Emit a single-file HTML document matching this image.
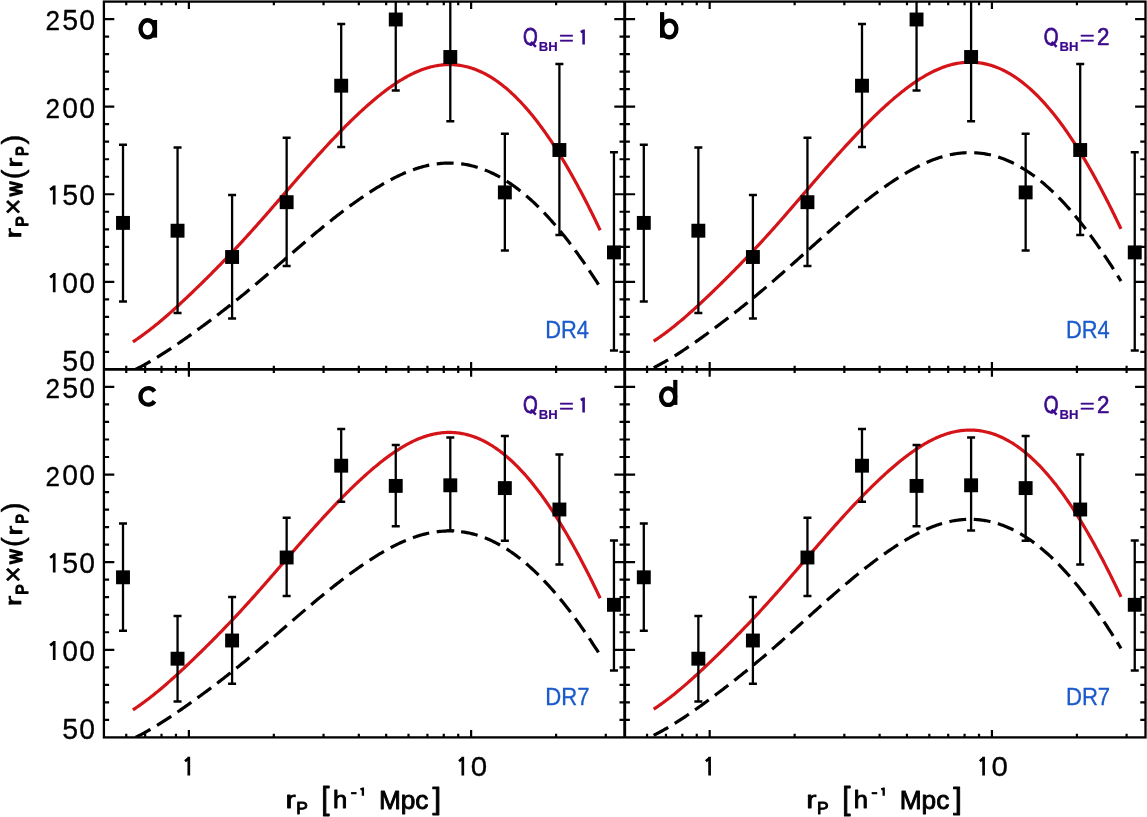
<!DOCTYPE html>
<html><head><meta charset="utf-8"><title>r_P x w(r_P) clustering panels</title>
<style>
html,body{margin:0;padding:0;background:#fff;}
body{width:1147px;height:817px;overflow:hidden;}
svg{display:block;will-change:transform;}
text{font-family:"Liberation Sans",sans-serif;font-kerning:none;}
</style></head>
<body>
<svg width="1147" height="817" viewBox="0 0 1147 817">
<rect width="1147" height="817" fill="#fff"/>
<rect x="103.9" y="1.6" width="1041.60" height="735.80" fill="none" stroke="#000" stroke-width="2.3"/>
<line x1="624.7" y1="1.6" x2="624.7" y2="737.4" stroke="#000" stroke-width="2.9"/>
<line x1="103.9" y1="369.4" x2="1145.5" y2="369.4" stroke="#000" stroke-width="2.9"/>
<path d="M103.90,351.89L109.10,351.89 M624.70,351.89L619.50,351.89 M624.70,351.89L629.90,351.89 M1145.50,351.89L1140.30,351.89 M103.90,334.37L109.10,334.37 M624.70,334.37L619.50,334.37 M624.70,334.37L629.90,334.37 M1145.50,334.37L1140.30,334.37 M103.90,316.86L109.10,316.86 M624.70,316.86L619.50,316.86 M624.70,316.86L629.90,316.86 M1145.50,316.86L1140.30,316.86 M103.90,299.34L109.10,299.34 M624.70,299.34L619.50,299.34 M624.70,299.34L629.90,299.34 M1145.50,299.34L1140.30,299.34 M103.90,281.83L114.30,281.83 M624.70,281.83L614.30,281.83 M624.70,281.83L635.10,281.83 M1145.50,281.83L1135.10,281.83 M103.90,264.31L109.10,264.31 M624.70,264.31L619.50,264.31 M624.70,264.31L629.90,264.31 M1145.50,264.31L1140.30,264.31 M103.90,246.80L109.10,246.80 M624.70,246.80L619.50,246.80 M624.70,246.80L629.90,246.80 M1145.50,246.80L1140.30,246.80 M103.90,229.29L109.10,229.29 M624.70,229.29L619.50,229.29 M624.70,229.29L629.90,229.29 M1145.50,229.29L1140.30,229.29 M103.90,211.77L109.10,211.77 M624.70,211.77L619.50,211.77 M624.70,211.77L629.90,211.77 M1145.50,211.77L1140.30,211.77 M103.90,194.26L114.30,194.26 M624.70,194.26L614.30,194.26 M624.70,194.26L635.10,194.26 M1145.50,194.26L1135.10,194.26 M103.90,176.74L109.10,176.74 M624.70,176.74L619.50,176.74 M624.70,176.74L629.90,176.74 M1145.50,176.74L1140.30,176.74 M103.90,159.23L109.10,159.23 M624.70,159.23L619.50,159.23 M624.70,159.23L629.90,159.23 M1145.50,159.23L1140.30,159.23 M103.90,141.71L109.10,141.71 M624.70,141.71L619.50,141.71 M624.70,141.71L629.90,141.71 M1145.50,141.71L1140.30,141.71 M103.90,124.20L109.10,124.20 M624.70,124.20L619.50,124.20 M624.70,124.20L629.90,124.20 M1145.50,124.20L1140.30,124.20 M103.90,106.69L114.30,106.69 M624.70,106.69L614.30,106.69 M624.70,106.69L635.10,106.69 M1145.50,106.69L1135.10,106.69 M103.90,89.17L109.10,89.17 M624.70,89.17L619.50,89.17 M624.70,89.17L629.90,89.17 M1145.50,89.17L1140.30,89.17 M103.90,71.66L109.10,71.66 M624.70,71.66L619.50,71.66 M624.70,71.66L629.90,71.66 M1145.50,71.66L1140.30,71.66 M103.90,54.14L109.10,54.14 M624.70,54.14L619.50,54.14 M624.70,54.14L629.90,54.14 M1145.50,54.14L1140.30,54.14 M103.90,36.63L109.10,36.63 M624.70,36.63L619.50,36.63 M624.70,36.63L629.90,36.63 M1145.50,36.63L1140.30,36.63 M103.90,19.11L114.30,19.11 M624.70,19.11L614.30,19.11 M624.70,19.11L635.10,19.11 M1145.50,19.11L1135.10,19.11 M103.90,719.88L109.10,719.88 M624.70,719.88L619.50,719.88 M624.70,719.88L629.90,719.88 M1145.50,719.88L1140.30,719.88 M103.90,702.35L109.10,702.35 M624.70,702.35L619.50,702.35 M624.70,702.35L629.90,702.35 M1145.50,702.35L1140.30,702.35 M103.90,684.83L109.10,684.83 M624.70,684.83L619.50,684.83 M624.70,684.83L629.90,684.83 M1145.50,684.83L1140.30,684.83 M103.90,667.30L109.10,667.30 M624.70,667.30L619.50,667.30 M624.70,667.30L629.90,667.30 M1145.50,667.30L1140.30,667.30 M103.90,649.78L114.30,649.78 M624.70,649.78L614.30,649.78 M624.70,649.78L635.10,649.78 M1145.50,649.78L1135.10,649.78 M103.90,632.26L109.10,632.26 M624.70,632.26L619.50,632.26 M624.70,632.26L629.90,632.26 M1145.50,632.26L1140.30,632.26 M103.90,614.73L109.10,614.73 M624.70,614.73L619.50,614.73 M624.70,614.73L629.90,614.73 M1145.50,614.73L1140.30,614.73 M103.90,597.21L109.10,597.21 M624.70,597.21L619.50,597.21 M624.70,597.21L629.90,597.21 M1145.50,597.21L1140.30,597.21 M103.90,579.69L109.10,579.69 M624.70,579.69L619.50,579.69 M624.70,579.69L629.90,579.69 M1145.50,579.69L1140.30,579.69 M103.90,562.16L114.30,562.16 M624.70,562.16L614.30,562.16 M624.70,562.16L635.10,562.16 M1145.50,562.16L1135.10,562.16 M103.90,544.64L109.10,544.64 M624.70,544.64L619.50,544.64 M624.70,544.64L629.90,544.64 M1145.50,544.64L1140.30,544.64 M103.90,527.11L109.10,527.11 M624.70,527.11L619.50,527.11 M624.70,527.11L629.90,527.11 M1145.50,527.11L1140.30,527.11 M103.90,509.59L109.10,509.59 M624.70,509.59L619.50,509.59 M624.70,509.59L629.90,509.59 M1145.50,509.59L1140.30,509.59 M103.90,492.07L109.10,492.07 M624.70,492.07L619.50,492.07 M624.70,492.07L629.90,492.07 M1145.50,492.07L1140.30,492.07 M103.90,474.54L114.30,474.54 M624.70,474.54L614.30,474.54 M624.70,474.54L635.10,474.54 M1145.50,474.54L1135.10,474.54 M103.90,457.02L109.10,457.02 M624.70,457.02L619.50,457.02 M624.70,457.02L629.90,457.02 M1145.50,457.02L1140.30,457.02 M103.90,439.50L109.10,439.50 M624.70,439.50L619.50,439.50 M624.70,439.50L629.90,439.50 M1145.50,439.50L1140.30,439.50 M103.90,421.97L109.10,421.97 M624.70,421.97L619.50,421.97 M624.70,421.97L629.90,421.97 M1145.50,421.97L1140.30,421.97 M103.90,404.45L109.10,404.45 M624.70,404.45L619.50,404.45 M624.70,404.45L629.90,404.45 M1145.50,404.45L1140.30,404.45 M103.90,386.92L114.30,386.92 M624.70,386.92L614.30,386.92 M624.70,386.92L635.10,386.92 M1145.50,386.92L1135.10,386.92 M126.25,1.60L126.25,5.30 M126.25,369.40L126.25,365.70 M126.25,369.40L126.25,373.10 M126.25,737.40L126.25,733.70 M145.15,1.60L145.15,5.30 M145.15,369.40L145.15,365.70 M145.15,369.40L145.15,373.10 M145.15,737.40L145.15,733.70 M161.52,1.60L161.52,5.30 M161.52,369.40L161.52,365.70 M161.52,369.40L161.52,373.10 M161.52,737.40L161.52,733.70 M175.95,1.60L175.95,5.30 M175.95,369.40L175.95,365.70 M175.95,369.40L175.95,373.10 M175.95,737.40L175.95,733.70 M188.87,1.60L188.87,8.95 M188.87,369.40L188.87,362.05 M188.87,369.40L188.87,376.75 M188.87,737.40L188.87,730.05 M273.84,1.60L273.84,5.30 M273.84,369.40L273.84,365.70 M273.84,369.40L273.84,373.10 M273.84,737.40L273.84,733.70 M323.54,1.60L323.54,5.30 M323.54,369.40L323.54,365.70 M323.54,369.40L323.54,373.10 M323.54,737.40L323.54,733.70 M358.81,1.60L358.81,5.30 M358.81,369.40L358.81,365.70 M358.81,369.40L358.81,373.10 M358.81,737.40L358.81,733.70 M386.16,1.60L386.16,5.30 M386.16,369.40L386.16,365.70 M386.16,369.40L386.16,373.10 M386.16,737.40L386.16,733.70 M408.51,1.60L408.51,5.30 M408.51,369.40L408.51,365.70 M408.51,369.40L408.51,373.10 M408.51,737.40L408.51,733.70 M427.41,1.60L427.41,5.30 M427.41,369.40L427.41,365.70 M427.41,369.40L427.41,373.10 M427.41,737.40L427.41,733.70 M443.78,1.60L443.78,5.30 M443.78,369.40L443.78,365.70 M443.78,369.40L443.78,373.10 M443.78,737.40L443.78,733.70 M458.22,1.60L458.22,5.30 M458.22,369.40L458.22,365.70 M458.22,369.40L458.22,373.10 M458.22,737.40L458.22,733.70 M471.13,1.60L471.13,8.95 M471.13,369.40L471.13,362.05 M471.13,369.40L471.13,376.75 M471.13,737.40L471.13,730.05 M556.10,1.60L556.10,5.30 M556.10,369.40L556.10,365.70 M556.10,369.40L556.10,373.10 M556.10,737.40L556.10,733.70 M605.80,1.60L605.80,5.30 M605.80,369.40L605.80,365.70 M605.80,369.40L605.80,373.10 M605.80,737.40L605.80,733.70 M647.05,1.60L647.05,5.30 M647.05,369.40L647.05,365.70 M647.05,369.40L647.05,373.10 M647.05,737.40L647.05,733.70 M665.95,1.60L665.95,5.30 M665.95,369.40L665.95,365.70 M665.95,369.40L665.95,373.10 M665.95,737.40L665.95,733.70 M682.32,1.60L682.32,5.30 M682.32,369.40L682.32,365.70 M682.32,369.40L682.32,373.10 M682.32,737.40L682.32,733.70 M696.75,1.60L696.75,5.30 M696.75,369.40L696.75,365.70 M696.75,369.40L696.75,373.10 M696.75,737.40L696.75,733.70 M709.67,1.60L709.67,8.95 M709.67,369.40L709.67,362.05 M709.67,369.40L709.67,376.75 M709.67,737.40L709.67,730.05 M794.64,1.60L794.64,5.30 M794.64,369.40L794.64,365.70 M794.64,369.40L794.64,373.10 M794.64,737.40L794.64,733.70 M844.34,1.60L844.34,5.30 M844.34,369.40L844.34,365.70 M844.34,369.40L844.34,373.10 M844.34,737.40L844.34,733.70 M879.61,1.60L879.61,5.30 M879.61,369.40L879.61,365.70 M879.61,369.40L879.61,373.10 M879.61,737.40L879.61,733.70 M906.96,1.60L906.96,5.30 M906.96,369.40L906.96,365.70 M906.96,369.40L906.96,373.10 M906.96,737.40L906.96,733.70 M929.31,1.60L929.31,5.30 M929.31,369.40L929.31,365.70 M929.31,369.40L929.31,373.10 M929.31,737.40L929.31,733.70 M948.21,1.60L948.21,5.30 M948.21,369.40L948.21,365.70 M948.21,369.40L948.21,373.10 M948.21,737.40L948.21,733.70 M964.58,1.60L964.58,5.30 M964.58,369.40L964.58,365.70 M964.58,369.40L964.58,373.10 M964.58,737.40L964.58,733.70 M979.02,1.60L979.02,5.30 M979.02,369.40L979.02,365.70 M979.02,369.40L979.02,373.10 M979.02,737.40L979.02,733.70 M991.93,1.60L991.93,8.95 M991.93,369.40L991.93,362.05 M991.93,369.40L991.93,376.75 M991.93,737.40L991.93,730.05 M1076.90,1.60L1076.90,5.30 M1076.90,369.40L1076.90,365.70 M1076.90,369.40L1076.90,373.10 M1076.90,737.40L1076.90,733.70 M1126.60,1.60L1126.60,5.30 M1126.60,369.40L1126.60,365.70 M1126.60,369.40L1126.60,373.10 M1126.60,737.40L1126.60,733.70" stroke="#000" stroke-width="2.2" fill="none"/>
<clipPath id="clipa"><rect x="103.90" y="1.60" width="520.80" height="367.80"/></clipPath>
<g clip-path="url(#clipa)">
<path d="M132.90,370.74 L134.07,370.17 L135.24,369.59 L136.41,369.00 L137.58,368.40 L138.76,367.80 L139.93,367.18 L141.10,366.56 L142.27,365.93 L143.44,365.30 L144.61,364.65 L145.78,364.00 L146.95,363.34 L148.13,362.68 L149.30,362.00 L150.47,361.32 L151.64,360.64 L152.81,359.95 L153.98,359.25 L155.15,358.54 L156.32,357.83 L157.49,357.11 L158.67,356.39 L159.84,355.66 L161.01,354.92 L162.18,354.18 L163.35,353.44 L164.52,352.68 L165.69,351.93 L166.86,351.17 L168.04,350.40 L169.21,349.63 L170.38,348.85 L171.55,348.07 L172.72,347.29 L173.89,346.50 L175.06,345.70 L176.23,344.91 L177.40,344.10 L178.58,343.30 L179.75,342.49 L180.92,341.68 L182.09,340.86 L183.26,340.04 L184.43,339.22 L185.60,338.40 L186.77,337.57 L187.95,336.74 L189.12,335.90 L190.29,335.07 L191.46,334.23 L192.63,333.39 L193.80,332.55 L194.97,331.70 L196.14,330.85 L197.31,330.00 L198.49,329.15 L199.66,328.30 L200.83,327.44 L202.00,326.58 L203.17,325.72 L204.34,324.86 L205.51,323.99 L206.68,323.12 L207.86,322.25 L209.03,321.38 L210.20,320.50 L211.37,319.62 L212.54,318.74 L213.71,317.85 L214.88,316.97 L216.05,316.08 L217.22,315.19 L218.40,314.29 L219.57,313.40 L220.74,312.50 L221.91,311.59 L223.08,310.69 L224.25,309.78 L225.42,308.87 L226.59,307.96 L227.77,307.04 L228.94,306.12 L230.11,305.20 L231.28,304.28 L232.45,303.35 L233.62,302.42 L234.79,301.49 L235.96,300.56 L237.13,299.62 L238.31,298.68 L239.48,297.73 L240.65,296.79 L241.82,295.84 L242.99,294.88 L244.16,293.93 L245.33,292.97 L246.50,292.01 L247.68,291.05 L248.85,290.08 L250.02,289.11 L251.19,288.13 L252.36,287.16 L253.53,286.18 L254.70,285.20 L255.87,284.21 L257.04,283.23 L258.22,282.24 L259.39,281.25 L260.56,280.25 L261.73,279.26 L262.90,278.26 L264.07,277.26 L265.24,276.26 L266.41,275.26 L267.59,274.25 L268.76,273.25 L269.93,272.24 L271.10,271.23 L272.27,270.22 L273.44,269.21 L274.61,268.20 L275.78,267.19 L276.95,266.18 L278.13,265.16 L279.30,264.15 L280.47,263.13 L281.64,262.12 L282.81,261.11 L283.98,260.09 L285.15,259.08 L286.32,258.06 L287.50,257.05 L288.67,256.04 L289.84,255.02 L291.01,254.01 L292.18,253.00 L293.35,251.99 L294.52,250.98 L295.69,249.97 L296.86,248.96 L298.04,247.95 L299.21,246.95 L300.38,245.94 L301.55,244.94 L302.72,243.94 L303.89,242.94 L305.06,241.94 L306.23,240.95 L307.41,239.96 L308.58,238.96 L309.75,237.98 L310.92,236.99 L312.09,236.01 L313.26,235.02 L314.43,234.05 L315.60,233.07 L316.77,232.10 L317.95,231.13 L319.12,230.16 L320.29,229.19 L321.46,228.23 L322.63,227.27 L323.80,226.32 L324.97,225.37 L326.14,224.42 L327.32,223.47 L328.49,222.53 L329.66,221.59 L330.83,220.66 L332.00,219.73 L333.17,218.80 L334.34,217.88 L335.51,216.96 L336.68,216.04 L337.86,215.13 L339.03,214.23 L340.20,213.32 L341.37,212.43 L342.54,211.53 L343.71,210.64 L344.88,209.76 L346.05,208.88 L347.23,208.01 L348.40,207.14 L349.57,206.27 L350.74,205.41 L351.91,204.56 L353.08,203.71 L354.25,202.87 L355.42,202.03 L356.59,201.19 L357.77,200.37 L358.94,199.54 L360.11,198.73 L361.28,197.92 L362.45,197.11 L363.62,196.31 L364.79,195.52 L365.96,194.73 L367.14,193.95 L368.31,193.18 L369.48,192.41 L370.65,191.65 L371.82,190.89 L372.99,190.14 L374.16,189.40 L375.33,188.67 L376.51,187.94 L377.68,187.22 L378.85,186.51 L380.02,185.80 L381.19,185.11 L382.36,184.42 L383.53,183.74 L384.70,183.07 L385.87,182.40 L387.05,181.75 L388.22,181.10 L389.39,180.47 L390.56,179.84 L391.73,179.22 L392.90,178.61 L394.07,178.01 L395.24,177.42 L396.42,176.84 L397.59,176.27 L398.76,175.71 L399.93,175.16 L401.10,174.62 L402.27,174.09 L403.44,173.57 L404.61,173.06 L405.78,172.56 L406.96,172.08 L408.13,171.60 L409.30,171.14 L410.47,170.69 L411.64,170.25 L412.81,169.82 L413.98,169.41 L415.15,169.00 L416.33,168.61 L417.50,168.23 L418.67,167.86 L419.84,167.51 L421.01,167.17 L422.18,166.84 L423.35,166.53 L424.52,166.22 L425.69,165.94 L426.87,165.66 L428.04,165.40 L429.21,165.15 L430.38,164.92 L431.55,164.70 L432.72,164.49 L433.89,164.30 L435.06,164.12 L436.24,163.96 L437.41,163.81 L438.58,163.67 L439.75,163.55 L440.92,163.44 L442.09,163.35 L443.26,163.27 L444.43,163.20 L445.60,163.15 L446.78,163.11 L447.95,163.09 L449.12,163.08 L450.29,163.08 L451.46,163.10 L452.63,163.14 L453.80,163.19 L454.97,163.25 L456.15,163.33 L457.32,163.42 L458.49,163.53 L459.66,163.65 L460.83,163.79 L462.00,163.94 L463.17,164.11 L464.34,164.29 L465.51,164.49 L466.69,164.70 L467.86,164.93 L469.03,165.17 L470.20,165.42 L471.37,165.70 L472.54,165.98 L473.71,166.29 L474.88,166.60 L476.06,166.94 L477.23,167.28 L478.40,167.65 L479.57,168.03 L480.74,168.42 L481.91,168.83 L483.08,169.26 L484.25,169.70 L485.42,170.16 L486.60,170.63 L487.77,171.12 L488.94,171.62 L490.11,172.14 L491.28,172.68 L492.45,173.23 L493.62,173.79 L494.79,174.38 L495.97,174.97 L497.14,175.59 L498.31,176.21 L499.48,176.86 L500.65,177.52 L501.82,178.19 L502.99,178.88 L504.16,179.59 L505.33,180.31 L506.51,181.04 L507.68,181.80 L508.85,182.56 L510.02,183.35 L511.19,184.14 L512.36,184.96 L513.53,185.78 L514.70,186.63 L515.88,187.49 L517.05,188.36 L518.22,189.25 L519.39,190.15 L520.56,191.07 L521.73,192.01 L522.90,192.96 L524.07,193.92 L525.24,194.91 L526.42,195.90 L527.59,196.91 L528.76,197.94 L529.93,198.98 L531.10,200.04 L532.27,201.11 L533.44,202.19 L534.61,203.29 L535.79,204.41 L536.96,205.54 L538.13,206.69 L539.30,207.85 L540.47,209.03 L541.64,210.22 L542.81,211.43 L543.98,212.65 L545.15,213.88 L546.33,215.13 L547.50,216.40 L548.67,217.68 L549.84,218.97 L551.01,220.28 L552.18,221.61 L553.35,222.94 L554.52,224.30 L555.70,225.66 L556.87,227.04 L558.04,228.44 L559.21,229.84 L560.38,231.27 L561.55,232.70 L562.72,234.15 L563.89,235.61 L565.06,237.09 L566.24,238.58 L567.41,240.08 L568.58,241.59 L569.75,243.12 L570.92,244.66 L572.09,246.22 L573.26,247.79 L574.43,249.37 L575.61,250.96 L576.78,252.56 L577.95,254.18 L579.12,255.81 L580.29,257.45 L581.46,259.11 L582.63,260.78 L583.80,262.46 L584.97,264.15 L586.15,265.85 L587.32,267.57 L588.49,269.29 L589.66,271.03 L590.83,272.78 L592.00,274.54 L593.17,276.32 L594.34,278.10 L595.52,279.90 L596.69,281.70 L597.86,283.52 L599.03,285.35 L600.20,287.19" fill="none" stroke="#000" stroke-width="3.2" stroke-dasharray="16.9 7.6" stroke-dashoffset="21.48"/>
<path d="M132.90,341.84 L134.07,341.08 L135.24,340.30 L136.41,339.52 L137.58,338.72 L138.76,337.91 L139.93,337.09 L141.10,336.26 L142.27,335.42 L143.44,334.57 L144.61,333.71 L145.78,332.84 L146.95,331.96 L148.13,331.08 L149.30,330.18 L150.47,329.27 L151.64,328.35 L152.81,327.43 L153.98,326.50 L155.15,325.55 L156.32,324.60 L157.49,323.65 L158.67,322.68 L159.84,321.71 L161.01,320.72 L162.18,319.74 L163.35,318.74 L164.52,317.74 L165.69,316.73 L166.86,315.71 L168.04,314.69 L169.21,313.66 L170.38,312.62 L171.55,311.58 L172.72,310.53 L173.89,309.48 L175.06,308.42 L176.23,307.35 L177.40,306.28 L178.58,305.21 L179.75,304.13 L180.92,303.04 L182.09,301.95 L183.26,300.86 L184.43,299.76 L185.60,298.66 L186.77,297.56 L187.95,296.45 L189.12,295.33 L190.29,294.22 L191.46,293.10 L192.63,291.98 L193.80,290.85 L194.97,289.72 L196.14,288.59 L197.31,287.46 L198.49,286.32 L199.66,285.18 L200.83,284.03 L202.00,282.89 L203.17,281.74 L204.34,280.58 L205.51,279.43 L206.68,278.27 L207.86,277.10 L209.03,275.94 L210.20,274.77 L211.37,273.59 L212.54,272.41 L213.71,271.23 L214.88,270.05 L216.05,268.86 L217.22,267.67 L218.40,266.48 L219.57,265.28 L220.74,264.08 L221.91,262.88 L223.08,261.67 L224.25,260.46 L225.42,259.24 L226.59,258.02 L227.77,256.80 L228.94,255.57 L230.11,254.34 L231.28,253.11 L232.45,251.87 L233.62,250.63 L234.79,249.39 L235.96,248.14 L237.13,246.89 L238.31,245.63 L239.48,244.37 L240.65,243.11 L241.82,241.84 L242.99,240.57 L244.16,239.29 L245.33,238.01 L246.50,236.73 L247.68,235.44 L248.85,234.15 L250.02,232.85 L251.19,231.55 L252.36,230.25 L253.53,228.94 L254.70,227.63 L255.87,226.32 L257.04,225.00 L258.22,223.68 L259.39,222.36 L260.56,221.03 L261.73,219.70 L262.90,218.37 L264.07,217.04 L265.24,215.70 L266.41,214.36 L267.59,213.02 L268.76,211.68 L269.93,210.33 L271.10,208.99 L272.27,207.64 L273.44,206.29 L274.61,204.94 L275.78,203.59 L276.95,202.24 L278.13,200.88 L279.30,199.53 L280.47,198.18 L281.64,196.82 L282.81,195.47 L283.98,194.11 L285.15,192.76 L286.32,191.41 L287.50,190.05 L288.67,188.70 L289.84,187.35 L291.01,185.99 L292.18,184.64 L293.35,183.29 L294.52,181.95 L295.69,180.60 L296.86,179.25 L298.04,177.91 L299.21,176.57 L300.38,175.23 L301.55,173.89 L302.72,172.55 L303.89,171.22 L305.06,169.89 L306.23,168.56 L307.41,167.23 L308.58,165.91 L309.75,164.59 L310.92,163.27 L312.09,161.96 L313.26,160.65 L314.43,159.34 L315.60,158.04 L316.77,156.74 L317.95,155.44 L319.12,154.15 L320.29,152.86 L321.46,151.58 L322.63,150.30 L323.80,149.02 L324.97,147.75 L326.14,146.48 L327.32,145.22 L328.49,143.96 L329.66,142.71 L330.83,141.46 L332.00,140.22 L333.17,138.99 L334.34,137.75 L335.51,136.53 L336.68,135.30 L337.86,134.09 L339.03,132.88 L340.20,131.67 L341.37,130.48 L342.54,129.28 L343.71,128.10 L344.88,126.92 L346.05,125.74 L347.23,124.58 L348.40,123.41 L349.57,122.26 L350.74,121.11 L351.91,119.97 L353.08,118.84 L354.25,117.71 L355.42,116.59 L356.59,115.48 L357.77,114.37 L358.94,113.28 L360.11,112.19 L361.28,111.10 L362.45,110.03 L363.62,108.96 L364.79,107.90 L365.96,106.85 L367.14,105.81 L368.31,104.77 L369.48,103.75 L370.65,102.73 L371.82,101.72 L372.99,100.72 L374.16,99.73 L375.33,98.75 L376.51,97.78 L377.68,96.82 L378.85,95.87 L380.02,94.93 L381.19,94.00 L382.36,93.08 L383.53,92.18 L384.70,91.28 L385.87,90.39 L387.05,89.52 L388.22,88.66 L389.39,87.81 L390.56,86.97 L391.73,86.14 L392.90,85.33 L394.07,84.53 L395.24,83.74 L396.42,82.96 L397.59,82.20 L398.76,81.45 L399.93,80.72 L401.10,80.00 L402.27,79.29 L403.44,78.60 L404.61,77.92 L405.78,77.26 L406.96,76.61 L408.13,75.97 L409.30,75.36 L410.47,74.75 L411.64,74.16 L412.81,73.59 L413.98,73.04 L415.15,72.50 L416.33,71.98 L417.50,71.47 L418.67,70.98 L419.84,70.51 L421.01,70.05 L422.18,69.61 L423.35,69.19 L424.52,68.79 L425.69,68.41 L426.87,68.04 L428.04,67.69 L429.21,67.36 L430.38,67.05 L431.55,66.76 L432.72,66.48 L433.89,66.22 L435.06,65.99 L436.24,65.77 L437.41,65.57 L438.58,65.38 L439.75,65.22 L440.92,65.08 L442.09,64.95 L443.26,64.84 L444.43,64.75 L445.60,64.69 L446.78,64.64 L447.95,64.60 L449.12,64.59 L450.29,64.60 L451.46,64.63 L452.63,64.67 L453.80,64.74 L454.97,64.82 L456.15,64.93 L457.32,65.05 L458.49,65.19 L459.66,65.36 L460.83,65.54 L462.00,65.74 L463.17,65.97 L464.34,66.21 L465.51,66.47 L466.69,66.75 L467.86,67.06 L469.03,67.38 L470.20,67.72 L471.37,68.09 L472.54,68.47 L473.71,68.87 L474.88,69.30 L476.06,69.74 L477.23,70.21 L478.40,70.69 L479.57,71.20 L480.74,71.73 L481.91,72.27 L483.08,72.84 L484.25,73.43 L485.42,74.04 L486.60,74.67 L487.77,75.33 L488.94,76.00 L490.11,76.69 L491.28,77.41 L492.45,78.14 L493.62,78.90 L494.79,79.67 L495.97,80.47 L497.14,81.29 L498.31,82.13 L499.48,82.99 L500.65,83.87 L501.82,84.77 L502.99,85.69 L504.16,86.63 L505.33,87.59 L506.51,88.58 L507.68,89.58 L508.85,90.60 L510.02,91.65 L511.19,92.71 L512.36,93.80 L513.53,94.91 L514.70,96.03 L515.88,97.18 L517.05,98.35 L518.22,99.53 L519.39,100.74 L520.56,101.97 L521.73,103.22 L522.90,104.49 L524.07,105.77 L525.24,107.08 L526.42,108.41 L527.59,109.76 L528.76,111.13 L529.93,112.52 L531.10,113.93 L532.27,115.36 L533.44,116.81 L534.61,118.28 L535.79,119.77 L536.96,121.29 L538.13,122.82 L539.30,124.37 L540.47,125.94 L541.64,127.53 L542.81,129.14 L543.98,130.77 L545.15,132.42 L546.33,134.09 L547.50,135.78 L548.67,137.49 L549.84,139.22 L551.01,140.97 L552.18,142.73 L553.35,144.52 L554.52,146.32 L555.70,148.15 L556.87,149.99 L558.04,151.85 L559.21,153.73 L560.38,155.63 L561.55,157.54 L562.72,159.48 L563.89,161.43 L565.06,163.40 L566.24,165.39 L567.41,167.39 L568.58,169.42 L569.75,171.46 L570.92,173.52 L572.09,175.59 L573.26,177.68 L574.43,179.79 L575.61,181.92 L576.78,184.06 L577.95,186.22 L579.12,188.40 L580.29,190.59 L581.46,192.80 L582.63,195.03 L583.80,197.27 L584.97,199.53 L586.15,201.80 L587.32,204.09 L588.49,206.40 L589.66,208.72 L590.83,211.06 L592.00,213.41 L593.17,215.78 L594.34,218.16 L595.52,220.56 L596.69,222.97 L597.86,225.40 L599.03,227.84 L600.20,230.30" fill="none" stroke="#d41418" stroke-width="3.2"/>
<line x1="123.00" y1="144.70" x2="123.00" y2="301.40" stroke="#000" stroke-width="2.3"/>
<line x1="119.00" y1="144.70" x2="127.00" y2="144.70" stroke="#000" stroke-width="2.5"/>
<line x1="119.00" y1="301.40" x2="127.00" y2="301.40" stroke="#000" stroke-width="2.5"/>
<rect x="116.05" y="215.95" width="13.9" height="13.9" fill="#000"/>
<line x1="177.55" y1="147.60" x2="177.55" y2="313.10" stroke="#000" stroke-width="2.3"/>
<line x1="173.55" y1="147.60" x2="181.55" y2="147.60" stroke="#000" stroke-width="2.5"/>
<line x1="173.55" y1="313.10" x2="181.55" y2="313.10" stroke="#000" stroke-width="2.5"/>
<rect x="170.60" y="223.75" width="13.9" height="13.9" fill="#000"/>
<line x1="232.10" y1="194.90" x2="232.10" y2="318.50" stroke="#000" stroke-width="2.3"/>
<line x1="228.10" y1="194.90" x2="236.10" y2="194.90" stroke="#000" stroke-width="2.5"/>
<line x1="228.10" y1="318.50" x2="236.10" y2="318.50" stroke="#000" stroke-width="2.5"/>
<rect x="225.15" y="250.05" width="13.9" height="13.9" fill="#000"/>
<line x1="286.65" y1="137.80" x2="286.65" y2="266.10" stroke="#000" stroke-width="2.3"/>
<line x1="282.65" y1="137.80" x2="290.65" y2="137.80" stroke="#000" stroke-width="2.5"/>
<line x1="282.65" y1="266.10" x2="290.65" y2="266.10" stroke="#000" stroke-width="2.5"/>
<rect x="279.70" y="195.25" width="13.9" height="13.9" fill="#000"/>
<line x1="341.20" y1="24.00" x2="341.20" y2="146.90" stroke="#000" stroke-width="2.3"/>
<line x1="337.20" y1="24.00" x2="345.20" y2="24.00" stroke="#000" stroke-width="2.5"/>
<line x1="337.20" y1="146.90" x2="345.20" y2="146.90" stroke="#000" stroke-width="2.5"/>
<rect x="334.25" y="78.75" width="13.9" height="13.9" fill="#000"/>
<line x1="395.75" y1="-20.00" x2="395.75" y2="90.60" stroke="#000" stroke-width="2.3"/>
<line x1="391.75" y1="-20.00" x2="399.75" y2="-20.00" stroke="#000" stroke-width="2.5"/>
<line x1="391.75" y1="90.60" x2="399.75" y2="90.60" stroke="#000" stroke-width="2.5"/>
<rect x="388.80" y="12.55" width="13.9" height="13.9" fill="#000"/>
<line x1="450.30" y1="-20.00" x2="450.30" y2="121.20" stroke="#000" stroke-width="2.3"/>
<line x1="446.30" y1="-20.00" x2="454.30" y2="-20.00" stroke="#000" stroke-width="2.5"/>
<line x1="446.30" y1="121.20" x2="454.30" y2="121.20" stroke="#000" stroke-width="2.5"/>
<rect x="443.35" y="50.05" width="13.9" height="13.9" fill="#000"/>
<line x1="504.85" y1="133.70" x2="504.85" y2="250.40" stroke="#000" stroke-width="2.3"/>
<line x1="500.85" y1="133.70" x2="508.85" y2="133.70" stroke="#000" stroke-width="2.5"/>
<line x1="500.85" y1="250.40" x2="508.85" y2="250.40" stroke="#000" stroke-width="2.5"/>
<rect x="497.90" y="185.45" width="13.9" height="13.9" fill="#000"/>
<line x1="559.40" y1="64.10" x2="559.40" y2="234.90" stroke="#000" stroke-width="2.3"/>
<line x1="555.40" y1="64.10" x2="563.40" y2="64.10" stroke="#000" stroke-width="2.5"/>
<line x1="555.40" y1="234.90" x2="563.40" y2="234.90" stroke="#000" stroke-width="2.5"/>
<rect x="552.45" y="143.05" width="13.9" height="13.9" fill="#000"/>
<line x1="613.95" y1="152.20" x2="613.95" y2="350.60" stroke="#000" stroke-width="2.3"/>
<line x1="609.95" y1="152.20" x2="617.95" y2="152.20" stroke="#000" stroke-width="2.5"/>
<line x1="609.95" y1="350.60" x2="617.95" y2="350.60" stroke="#000" stroke-width="2.5"/>
<rect x="607.00" y="245.45" width="13.9" height="13.9" fill="#000"/>
</g>
<clipPath id="clipb"><rect x="624.70" y="1.60" width="520.80" height="367.80"/></clipPath>
<g clip-path="url(#clipb)">
<path d="M653.70,367.68 L654.87,367.08 L656.04,366.48 L657.21,365.87 L658.38,365.25 L659.56,364.63 L660.73,363.99 L661.90,363.35 L663.07,362.70 L664.24,362.04 L665.41,361.37 L666.58,360.70 L667.75,360.01 L668.93,359.32 L670.10,358.63 L671.27,357.92 L672.44,357.21 L673.61,356.50 L674.78,355.77 L675.95,355.04 L677.12,354.30 L678.29,353.56 L679.47,352.81 L680.64,352.06 L681.81,351.29 L682.98,350.53 L684.15,349.76 L685.32,348.98 L686.49,348.19 L687.66,347.40 L688.84,346.61 L690.01,345.81 L691.18,345.01 L692.35,344.20 L693.52,343.39 L694.69,342.57 L695.86,341.75 L697.03,340.92 L698.20,340.09 L699.38,339.26 L700.55,338.42 L701.72,337.58 L702.89,336.74 L704.06,335.89 L705.23,335.04 L706.40,334.18 L707.57,333.32 L708.75,332.46 L709.92,331.60 L711.09,330.74 L712.26,329.87 L713.43,329.00 L714.60,328.12 L715.77,327.25 L716.94,326.37 L718.11,325.49 L719.29,324.61 L720.46,323.72 L721.63,322.84 L722.80,321.95 L723.97,321.05 L725.14,320.16 L726.31,319.26 L727.48,318.36 L728.66,317.46 L729.83,316.56 L731.00,315.65 L732.17,314.74 L733.34,313.82 L734.51,312.91 L735.68,311.99 L736.85,311.07 L738.02,310.15 L739.20,309.22 L740.37,308.29 L741.54,307.36 L742.71,306.43 L743.88,305.49 L745.05,304.55 L746.22,303.61 L747.39,302.66 L748.57,301.71 L749.74,300.76 L750.91,299.81 L752.08,298.85 L753.25,297.89 L754.42,296.93 L755.59,295.96 L756.76,295.00 L757.93,294.02 L759.11,293.05 L760.28,292.07 L761.45,291.09 L762.62,290.11 L763.79,289.12 L764.96,288.13 L766.13,287.14 L767.30,286.15 L768.48,285.15 L769.65,284.15 L770.82,283.14 L771.99,282.13 L773.16,281.12 L774.33,280.11 L775.50,279.09 L776.67,278.07 L777.84,277.05 L779.02,276.03 L780.19,275.00 L781.36,273.97 L782.53,272.94 L783.70,271.91 L784.87,270.87 L786.04,269.83 L787.21,268.80 L788.39,267.76 L789.56,266.72 L790.73,265.67 L791.90,264.63 L793.07,263.58 L794.24,262.54 L795.41,261.49 L796.58,260.44 L797.75,259.39 L798.93,258.34 L800.10,257.29 L801.27,256.24 L802.44,255.19 L803.61,254.14 L804.78,253.09 L805.95,252.04 L807.12,250.99 L808.30,249.94 L809.47,248.89 L810.64,247.84 L811.81,246.79 L812.98,245.75 L814.15,244.70 L815.32,243.65 L816.49,242.61 L817.66,241.57 L818.84,240.52 L820.01,239.48 L821.18,238.44 L822.35,237.40 L823.52,236.37 L824.69,235.33 L825.86,234.30 L827.03,233.27 L828.21,232.24 L829.38,231.21 L830.55,230.19 L831.72,229.17 L832.89,228.15 L834.06,227.13 L835.23,226.12 L836.40,225.11 L837.57,224.10 L838.75,223.10 L839.92,222.09 L841.09,221.10 L842.26,220.10 L843.43,219.11 L844.60,218.12 L845.77,217.13 L846.94,216.15 L848.12,215.17 L849.29,214.20 L850.46,213.22 L851.63,212.26 L852.80,211.29 L853.97,210.33 L855.14,209.38 L856.31,208.43 L857.48,207.48 L858.66,206.54 L859.83,205.60 L861.00,204.66 L862.17,203.73 L863.34,202.81 L864.51,201.89 L865.68,200.97 L866.85,200.06 L868.03,199.16 L869.20,198.26 L870.37,197.36 L871.54,196.47 L872.71,195.59 L873.88,194.71 L875.05,193.83 L876.22,192.96 L877.39,192.10 L878.57,191.24 L879.74,190.39 L880.91,189.55 L882.08,188.71 L883.25,187.87 L884.42,187.05 L885.59,186.22 L886.76,185.41 L887.94,184.60 L889.11,183.80 L890.28,183.00 L891.45,182.21 L892.62,181.43 L893.79,180.66 L894.96,179.89 L896.13,179.13 L897.31,178.38 L898.48,177.63 L899.65,176.89 L900.82,176.16 L901.99,175.44 L903.16,174.73 L904.33,174.03 L905.50,173.33 L906.67,172.64 L907.85,171.97 L909.02,171.30 L910.19,170.64 L911.36,169.99 L912.53,169.35 L913.70,168.72 L914.87,168.09 L916.04,167.48 L917.22,166.88 L918.39,166.29 L919.56,165.71 L920.73,165.14 L921.90,164.58 L923.07,164.03 L924.24,163.49 L925.41,162.97 L926.58,162.45 L927.76,161.95 L928.93,161.46 L930.10,160.98 L931.27,160.51 L932.44,160.06 L933.61,159.61 L934.78,159.18 L935.95,158.76 L937.13,158.36 L938.30,157.97 L939.47,157.59 L940.64,157.22 L941.81,156.87 L942.98,156.53 L944.15,156.20 L945.32,155.89 L946.49,155.59 L947.67,155.31 L948.84,155.04 L950.01,154.78 L951.18,154.54 L952.35,154.31 L953.52,154.10 L954.69,153.90 L955.86,153.71 L957.04,153.54 L958.21,153.39 L959.38,153.25 L960.55,153.12 L961.72,153.01 L962.89,152.91 L964.06,152.83 L965.23,152.76 L966.40,152.70 L967.58,152.67 L968.75,152.64 L969.92,152.63 L971.09,152.64 L972.26,152.66 L973.43,152.69 L974.60,152.74 L975.77,152.81 L976.95,152.89 L978.12,152.99 L979.29,153.10 L980.46,153.23 L981.63,153.37 L982.80,153.53 L983.97,153.70 L985.14,153.89 L986.31,154.09 L987.49,154.31 L988.66,154.54 L989.83,154.79 L991.00,155.06 L992.17,155.34 L993.34,155.64 L994.51,155.95 L995.68,156.28 L996.86,156.63 L998.03,156.99 L999.20,157.36 L1000.37,157.76 L1001.54,158.17 L1002.71,158.59 L1003.88,159.03 L1005.05,159.49 L1006.22,159.96 L1007.40,160.45 L1008.57,160.96 L1009.74,161.48 L1010.91,162.02 L1012.08,162.57 L1013.25,163.14 L1014.42,163.73 L1015.59,164.33 L1016.77,164.95 L1017.94,165.58 L1019.11,166.23 L1020.28,166.90 L1021.45,167.58 L1022.62,168.28 L1023.79,169.00 L1024.96,169.73 L1026.13,170.47 L1027.31,171.24 L1028.48,172.01 L1029.65,172.81 L1030.82,173.62 L1031.99,174.44 L1033.16,175.29 L1034.33,176.14 L1035.50,177.02 L1036.68,177.91 L1037.85,178.81 L1039.02,179.73 L1040.19,180.67 L1041.36,181.62 L1042.53,182.59 L1043.70,183.57 L1044.87,184.57 L1046.04,185.59 L1047.22,186.62 L1048.39,187.67 L1049.56,188.73 L1050.73,189.81 L1051.90,190.90 L1053.07,192.01 L1054.24,193.14 L1055.41,194.28 L1056.59,195.43 L1057.76,196.60 L1058.93,197.79 L1060.10,198.99 L1061.27,200.21 L1062.44,201.45 L1063.61,202.70 L1064.78,203.96 L1065.95,205.24 L1067.13,206.54 L1068.30,207.85 L1069.47,209.17 L1070.64,210.51 L1071.81,211.87 L1072.98,213.24 L1074.15,214.63 L1075.32,216.03 L1076.50,217.44 L1077.67,218.87 L1078.84,220.31 L1080.01,221.77 L1081.18,223.24 L1082.35,224.73 L1083.52,226.23 L1084.69,227.74 L1085.86,229.27 L1087.04,230.81 L1088.21,232.37 L1089.38,233.94 L1090.55,235.52 L1091.72,237.12 L1092.89,238.73 L1094.06,240.35 L1095.23,241.99 L1096.41,243.63 L1097.58,245.30 L1098.75,246.97 L1099.92,248.66 L1101.09,250.36 L1102.26,252.08 L1103.43,253.80 L1104.60,255.54 L1105.77,257.29 L1106.95,259.06 L1108.12,260.83 L1109.29,262.62 L1110.46,264.42 L1111.63,266.23 L1112.80,268.06 L1113.97,269.89 L1115.14,271.74 L1116.32,273.60 L1117.49,275.47 L1118.66,277.36 L1119.83,279.25 L1121.00,281.16" fill="none" stroke="#000" stroke-width="3.2" stroke-dasharray="16.9 7.6" stroke-dashoffset="0.47"/>
<path d="M653.70,341.15 L654.87,340.38 L656.04,339.60 L657.21,338.81 L658.38,338.01 L659.56,337.20 L660.73,336.37 L661.90,335.54 L663.07,334.69 L664.24,333.84 L665.41,332.97 L666.58,332.10 L667.75,331.21 L668.93,330.32 L670.10,329.42 L671.27,328.50 L672.44,327.58 L673.61,326.65 L674.78,325.71 L675.95,324.77 L677.12,323.81 L678.29,322.85 L679.47,321.87 L680.64,320.89 L681.81,319.91 L682.98,318.91 L684.15,317.91 L685.32,316.90 L686.49,315.88 L687.66,314.86 L688.84,313.83 L690.01,312.80 L691.18,311.75 L692.35,310.71 L693.52,309.65 L694.69,308.59 L695.86,307.52 L697.03,306.45 L698.20,305.38 L699.38,304.30 L700.55,303.21 L701.72,302.12 L702.89,301.02 L704.06,299.92 L705.23,298.82 L706.40,297.71 L707.57,296.60 L708.75,295.48 L709.92,294.36 L711.09,293.24 L712.26,292.11 L713.43,290.99 L714.60,289.85 L715.77,288.72 L716.94,287.58 L718.11,286.44 L719.29,285.29 L720.46,284.15 L721.63,283.00 L722.80,281.84 L723.97,280.68 L725.14,279.52 L726.31,278.36 L727.48,277.19 L728.66,276.02 L729.83,274.85 L731.00,273.67 L732.17,272.49 L733.34,271.31 L734.51,270.12 L735.68,268.93 L736.85,267.74 L738.02,266.54 L739.20,265.34 L740.37,264.13 L741.54,262.92 L742.71,261.71 L743.88,260.50 L745.05,259.28 L746.22,258.06 L747.39,256.83 L748.57,255.60 L749.74,254.37 L750.91,253.13 L752.08,251.89 L753.25,250.64 L754.42,249.39 L755.59,248.14 L756.76,246.89 L757.93,245.63 L759.11,244.36 L760.28,243.10 L761.45,241.82 L762.62,240.55 L763.79,239.27 L764.96,237.99 L766.13,236.70 L767.30,235.41 L768.48,234.11 L769.65,232.81 L770.82,231.51 L771.99,230.20 L773.16,228.89 L774.33,227.58 L775.50,226.26 L776.67,224.94 L777.84,223.61 L779.02,222.28 L780.19,220.95 L781.36,219.62 L782.53,218.28 L783.70,216.94 L784.87,215.60 L786.04,214.25 L787.21,212.91 L788.39,211.56 L789.56,210.21 L790.73,208.85 L791.90,207.50 L793.07,206.14 L794.24,204.79 L795.41,203.43 L796.58,202.07 L797.75,200.71 L798.93,199.35 L800.10,197.99 L801.27,196.62 L802.44,195.26 L803.61,193.90 L804.78,192.54 L805.95,191.17 L807.12,189.81 L808.30,188.45 L809.47,187.09 L810.64,185.73 L811.81,184.37 L812.98,183.01 L814.15,181.65 L815.32,180.30 L816.49,178.94 L817.66,177.59 L818.84,176.23 L820.01,174.88 L821.18,173.53 L822.35,172.19 L823.52,170.84 L824.69,169.50 L825.86,168.16 L827.03,166.83 L828.21,165.49 L829.38,164.16 L830.55,162.83 L831.72,161.51 L832.89,160.19 L834.06,158.87 L835.23,157.55 L836.40,156.24 L837.57,154.94 L838.75,153.63 L839.92,152.33 L841.09,151.04 L842.26,149.74 L843.43,148.46 L844.60,147.17 L845.77,145.90 L846.94,144.62 L848.12,143.35 L849.29,142.09 L850.46,140.83 L851.63,139.57 L852.80,138.32 L853.97,137.08 L855.14,135.84 L856.31,134.60 L857.48,133.37 L858.66,132.15 L859.83,130.93 L861.00,129.72 L862.17,128.52 L863.34,127.32 L864.51,126.12 L865.68,124.94 L866.85,123.76 L868.03,122.58 L869.20,121.41 L870.37,120.25 L871.54,119.10 L872.71,117.95 L873.88,116.81 L875.05,115.68 L876.22,114.55 L877.39,113.43 L878.57,112.32 L879.74,111.21 L880.91,110.12 L882.08,109.03 L883.25,107.95 L884.42,106.87 L885.59,105.81 L886.76,104.75 L887.94,103.70 L889.11,102.66 L890.28,101.63 L891.45,100.61 L892.62,99.59 L893.79,98.59 L894.96,97.59 L896.13,96.61 L897.31,95.63 L898.48,94.66 L899.65,93.71 L900.82,92.76 L901.99,91.83 L903.16,90.90 L904.33,89.99 L905.50,89.09 L906.67,88.19 L907.85,87.31 L909.02,86.45 L910.19,85.59 L911.36,84.75 L912.53,83.92 L913.70,83.10 L914.87,82.29 L916.04,81.50 L917.22,80.72 L918.39,79.95 L919.56,79.20 L920.73,78.46 L921.90,77.74 L923.07,77.02 L924.24,76.33 L925.41,75.65 L926.58,74.98 L927.76,74.33 L928.93,73.69 L930.10,73.07 L931.27,72.46 L932.44,71.87 L933.61,71.29 L934.78,70.73 L935.95,70.19 L937.13,69.67 L938.30,69.16 L939.47,68.66 L940.64,68.19 L941.81,67.73 L942.98,67.29 L944.15,66.87 L945.32,66.46 L946.49,66.08 L947.67,65.71 L948.84,65.36 L950.01,65.02 L951.18,64.71 L952.35,64.42 L953.52,64.14 L954.69,63.88 L955.86,63.64 L957.04,63.42 L958.21,63.22 L959.38,63.03 L960.55,62.87 L961.72,62.72 L962.89,62.60 L964.06,62.49 L965.23,62.40 L966.40,62.33 L967.58,62.28 L968.75,62.25 L969.92,62.24 L971.09,62.25 L972.26,62.27 L973.43,62.32 L974.60,62.38 L975.77,62.47 L976.95,62.57 L978.12,62.70 L979.29,62.84 L980.46,63.01 L981.63,63.19 L982.80,63.40 L983.97,63.62 L985.14,63.86 L986.31,64.13 L987.49,64.41 L988.66,64.72 L989.83,65.04 L991.00,65.39 L992.17,65.75 L993.34,66.14 L994.51,66.54 L995.68,66.97 L996.86,67.42 L998.03,67.89 L999.20,68.37 L1000.37,68.88 L1001.54,69.41 L1002.71,69.97 L1003.88,70.54 L1005.05,71.13 L1006.22,71.75 L1007.40,72.38 L1008.57,73.04 L1009.74,73.71 L1010.91,74.41 L1012.08,75.13 L1013.25,75.87 L1014.42,76.63 L1015.59,77.41 L1016.77,78.21 L1017.94,79.04 L1019.11,79.88 L1020.28,80.74 L1021.45,81.63 L1022.62,82.54 L1023.79,83.46 L1024.96,84.41 L1026.13,85.38 L1027.31,86.37 L1028.48,87.38 L1029.65,88.41 L1030.82,89.46 L1031.99,90.53 L1033.16,91.62 L1034.33,92.73 L1035.50,93.87 L1036.68,95.02 L1037.85,96.19 L1039.02,97.39 L1040.19,98.60 L1041.36,99.84 L1042.53,101.09 L1043.70,102.37 L1044.87,103.67 L1046.04,104.98 L1047.22,106.32 L1048.39,107.68 L1049.56,109.06 L1050.73,110.46 L1051.90,111.87 L1053.07,113.31 L1054.24,114.77 L1055.41,116.25 L1056.59,117.75 L1057.76,119.27 L1058.93,120.81 L1060.10,122.37 L1061.27,123.95 L1062.44,125.55 L1063.61,127.17 L1064.78,128.81 L1065.95,130.47 L1067.13,132.15 L1068.30,133.85 L1069.47,135.57 L1070.64,137.31 L1071.81,139.07 L1072.98,140.85 L1074.15,142.64 L1075.32,144.46 L1076.50,146.29 L1077.67,148.15 L1078.84,150.02 L1080.01,151.91 L1081.18,153.82 L1082.35,155.75 L1083.52,157.69 L1084.69,159.66 L1085.86,161.64 L1087.04,163.64 L1088.21,165.66 L1089.38,167.69 L1090.55,169.75 L1091.72,171.82 L1092.89,173.90 L1094.06,176.01 L1095.23,178.13 L1096.41,180.27 L1097.58,182.43 L1098.75,184.60 L1099.92,186.79 L1101.09,189.00 L1102.26,191.22 L1103.43,193.46 L1104.60,195.71 L1105.77,197.98 L1106.95,200.27 L1108.12,202.58 L1109.29,204.90 L1110.46,207.23 L1111.63,209.58 L1112.80,211.95 L1113.97,214.33 L1115.14,216.73 L1116.32,219.14 L1117.49,221.57 L1118.66,224.01 L1119.83,226.47 L1121.00,228.94" fill="none" stroke="#d41418" stroke-width="3.2"/>
<line x1="643.80" y1="144.70" x2="643.80" y2="301.40" stroke="#000" stroke-width="2.3"/>
<line x1="639.80" y1="144.70" x2="647.80" y2="144.70" stroke="#000" stroke-width="2.5"/>
<line x1="639.80" y1="301.40" x2="647.80" y2="301.40" stroke="#000" stroke-width="2.5"/>
<rect x="636.85" y="215.95" width="13.9" height="13.9" fill="#000"/>
<line x1="698.35" y1="147.60" x2="698.35" y2="313.10" stroke="#000" stroke-width="2.3"/>
<line x1="694.35" y1="147.60" x2="702.35" y2="147.60" stroke="#000" stroke-width="2.5"/>
<line x1="694.35" y1="313.10" x2="702.35" y2="313.10" stroke="#000" stroke-width="2.5"/>
<rect x="691.40" y="223.75" width="13.9" height="13.9" fill="#000"/>
<line x1="752.90" y1="194.90" x2="752.90" y2="318.50" stroke="#000" stroke-width="2.3"/>
<line x1="748.90" y1="194.90" x2="756.90" y2="194.90" stroke="#000" stroke-width="2.5"/>
<line x1="748.90" y1="318.50" x2="756.90" y2="318.50" stroke="#000" stroke-width="2.5"/>
<rect x="745.95" y="250.05" width="13.9" height="13.9" fill="#000"/>
<line x1="807.45" y1="137.80" x2="807.45" y2="266.10" stroke="#000" stroke-width="2.3"/>
<line x1="803.45" y1="137.80" x2="811.45" y2="137.80" stroke="#000" stroke-width="2.5"/>
<line x1="803.45" y1="266.10" x2="811.45" y2="266.10" stroke="#000" stroke-width="2.5"/>
<rect x="800.50" y="195.25" width="13.9" height="13.9" fill="#000"/>
<line x1="862.00" y1="24.00" x2="862.00" y2="146.90" stroke="#000" stroke-width="2.3"/>
<line x1="858.00" y1="24.00" x2="866.00" y2="24.00" stroke="#000" stroke-width="2.5"/>
<line x1="858.00" y1="146.90" x2="866.00" y2="146.90" stroke="#000" stroke-width="2.5"/>
<rect x="855.05" y="78.75" width="13.9" height="13.9" fill="#000"/>
<line x1="916.55" y1="-20.00" x2="916.55" y2="90.60" stroke="#000" stroke-width="2.3"/>
<line x1="912.55" y1="-20.00" x2="920.55" y2="-20.00" stroke="#000" stroke-width="2.5"/>
<line x1="912.55" y1="90.60" x2="920.55" y2="90.60" stroke="#000" stroke-width="2.5"/>
<rect x="909.60" y="12.55" width="13.9" height="13.9" fill="#000"/>
<line x1="971.10" y1="-20.00" x2="971.10" y2="121.20" stroke="#000" stroke-width="2.3"/>
<line x1="967.10" y1="-20.00" x2="975.10" y2="-20.00" stroke="#000" stroke-width="2.5"/>
<line x1="967.10" y1="121.20" x2="975.10" y2="121.20" stroke="#000" stroke-width="2.5"/>
<rect x="964.15" y="50.05" width="13.9" height="13.9" fill="#000"/>
<line x1="1025.65" y1="133.70" x2="1025.65" y2="250.40" stroke="#000" stroke-width="2.3"/>
<line x1="1021.65" y1="133.70" x2="1029.65" y2="133.70" stroke="#000" stroke-width="2.5"/>
<line x1="1021.65" y1="250.40" x2="1029.65" y2="250.40" stroke="#000" stroke-width="2.5"/>
<rect x="1018.70" y="185.45" width="13.9" height="13.9" fill="#000"/>
<line x1="1080.20" y1="64.10" x2="1080.20" y2="234.90" stroke="#000" stroke-width="2.3"/>
<line x1="1076.20" y1="64.10" x2="1084.20" y2="64.10" stroke="#000" stroke-width="2.5"/>
<line x1="1076.20" y1="234.90" x2="1084.20" y2="234.90" stroke="#000" stroke-width="2.5"/>
<rect x="1073.25" y="143.05" width="13.9" height="13.9" fill="#000"/>
<line x1="1134.75" y1="152.20" x2="1134.75" y2="350.60" stroke="#000" stroke-width="2.3"/>
<line x1="1130.75" y1="152.20" x2="1138.75" y2="152.20" stroke="#000" stroke-width="2.5"/>
<line x1="1130.75" y1="350.60" x2="1138.75" y2="350.60" stroke="#000" stroke-width="2.5"/>
<rect x="1127.80" y="245.45" width="13.9" height="13.9" fill="#000"/>
</g>
<clipPath id="clipc"><rect x="103.90" y="369.40" width="520.80" height="368.00"/></clipPath>
<g clip-path="url(#clipc)">
<path d="M132.90,738.74 L134.07,738.17 L135.24,737.59 L136.41,737.00 L137.58,736.40 L138.76,735.79 L139.93,735.18 L141.10,734.56 L142.27,733.93 L143.44,733.29 L144.61,732.65 L145.78,732.00 L146.95,731.34 L148.13,730.67 L149.30,730.00 L150.47,729.32 L151.64,728.63 L152.81,727.94 L153.98,727.24 L155.15,726.53 L156.32,725.82 L157.49,725.10 L158.67,724.38 L159.84,723.65 L161.01,722.91 L162.18,722.17 L163.35,721.43 L164.52,720.68 L165.69,719.92 L166.86,719.16 L168.04,718.39 L169.21,717.62 L170.38,716.84 L171.55,716.06 L172.72,715.27 L173.89,714.48 L175.06,713.69 L176.23,712.89 L177.40,712.09 L178.58,711.29 L179.75,710.48 L180.92,709.66 L182.09,708.85 L183.26,708.03 L184.43,707.21 L185.60,706.38 L186.77,705.55 L187.95,704.72 L189.12,703.89 L190.29,703.05 L191.46,702.21 L192.63,701.37 L193.80,700.53 L194.97,699.68 L196.14,698.83 L197.31,697.98 L198.49,697.13 L199.66,696.28 L200.83,695.42 L202.00,694.56 L203.17,693.70 L204.34,692.83 L205.51,691.96 L206.68,691.10 L207.86,690.22 L209.03,689.35 L210.20,688.47 L211.37,687.59 L212.54,686.71 L213.71,685.83 L214.88,684.94 L216.05,684.05 L217.22,683.16 L218.40,682.26 L219.57,681.37 L220.74,680.47 L221.91,679.56 L223.08,678.66 L224.25,677.75 L225.42,676.84 L226.59,675.93 L227.77,675.01 L228.94,674.09 L230.11,673.17 L231.28,672.24 L232.45,671.32 L233.62,670.39 L234.79,669.45 L235.96,668.52 L237.13,667.58 L238.31,666.64 L239.48,665.69 L240.65,664.75 L241.82,663.80 L242.99,662.84 L244.16,661.89 L245.33,660.93 L246.50,659.97 L247.68,659.00 L248.85,658.04 L250.02,657.06 L251.19,656.09 L252.36,655.11 L253.53,654.13 L254.70,653.15 L255.87,652.17 L257.04,651.18 L258.22,650.19 L259.39,649.20 L260.56,648.20 L261.73,647.21 L262.90,646.21 L264.07,645.21 L265.24,644.21 L266.41,643.20 L267.59,642.20 L268.76,641.19 L269.93,640.19 L271.10,639.18 L272.27,638.17 L273.44,637.16 L274.61,636.15 L275.78,635.13 L276.95,634.12 L278.13,633.11 L279.30,632.09 L280.47,631.08 L281.64,630.06 L282.81,629.05 L283.98,628.03 L285.15,627.02 L286.32,626.00 L287.50,624.99 L288.67,623.97 L289.84,622.96 L291.01,621.95 L292.18,620.93 L293.35,619.92 L294.52,618.91 L295.69,617.90 L296.86,616.89 L298.04,615.89 L299.21,614.88 L300.38,613.88 L301.55,612.87 L302.72,611.87 L303.89,610.87 L305.06,609.87 L306.23,608.88 L307.41,607.89 L308.58,606.89 L309.75,605.90 L310.92,604.92 L312.09,603.93 L313.26,602.95 L314.43,601.97 L315.60,601.00 L316.77,600.02 L317.95,599.05 L319.12,598.08 L320.29,597.12 L321.46,596.15 L322.63,595.20 L323.80,594.24 L324.97,593.29 L326.14,592.34 L327.32,591.39 L328.49,590.45 L329.66,589.51 L330.83,588.58 L332.00,587.65 L333.17,586.72 L334.34,585.79 L335.51,584.88 L336.68,583.96 L337.86,583.05 L339.03,582.14 L340.20,581.24 L341.37,580.34 L342.54,579.45 L343.71,578.56 L344.88,577.67 L346.05,576.79 L347.23,575.92 L348.40,575.05 L349.57,574.18 L350.74,573.32 L351.91,572.47 L353.08,571.62 L354.25,570.77 L355.42,569.94 L356.59,569.10 L357.77,568.27 L358.94,567.45 L360.11,566.63 L361.28,565.82 L362.45,565.02 L363.62,564.22 L364.79,563.42 L365.96,562.64 L367.14,561.86 L368.31,561.08 L369.48,560.31 L370.65,559.55 L371.82,558.79 L372.99,558.04 L374.16,557.30 L375.33,556.57 L376.51,555.84 L377.68,555.12 L378.85,554.41 L380.02,553.70 L381.19,553.01 L382.36,552.32 L383.53,551.64 L384.70,550.97 L385.87,550.30 L387.05,549.65 L388.22,549.00 L389.39,548.36 L390.56,547.74 L391.73,547.12 L392.90,546.51 L394.07,545.91 L395.24,545.32 L396.42,544.73 L397.59,544.16 L398.76,543.60 L399.93,543.05 L401.10,542.51 L402.27,541.98 L403.44,541.46 L404.61,540.95 L405.78,540.46 L406.96,539.97 L408.13,539.50 L409.30,539.03 L410.47,538.58 L411.64,538.14 L412.81,537.71 L413.98,537.30 L415.15,536.89 L416.33,536.50 L417.50,536.12 L418.67,535.75 L419.84,535.40 L421.01,535.06 L422.18,534.73 L423.35,534.42 L424.52,534.11 L425.69,533.83 L426.87,533.55 L428.04,533.29 L429.21,533.04 L430.38,532.81 L431.55,532.59 L432.72,532.38 L433.89,532.19 L435.06,532.01 L436.24,531.85 L437.41,531.70 L438.58,531.56 L439.75,531.44 L440.92,531.33 L442.09,531.23 L443.26,531.15 L444.43,531.09 L445.60,531.04 L446.78,531.00 L447.95,530.98 L449.12,530.97 L450.29,530.97 L451.46,530.99 L452.63,531.03 L453.80,531.08 L454.97,531.14 L456.15,531.22 L457.32,531.31 L458.49,531.42 L459.66,531.54 L460.83,531.68 L462.00,531.83 L463.17,532.00 L464.34,532.18 L465.51,532.38 L466.69,532.59 L467.86,532.81 L469.03,533.06 L470.20,533.31 L471.37,533.58 L472.54,533.87 L473.71,534.17 L474.88,534.49 L476.06,534.83 L477.23,535.17 L478.40,535.54 L479.57,535.92 L480.74,536.31 L481.91,536.72 L483.08,537.15 L484.25,537.59 L485.42,538.05 L486.60,538.52 L487.77,539.01 L488.94,539.52 L490.11,540.04 L491.28,540.57 L492.45,541.12 L493.62,541.69 L494.79,542.27 L495.97,542.87 L497.14,543.48 L498.31,544.11 L499.48,544.75 L500.65,545.41 L501.82,546.09 L502.99,546.78 L504.16,547.48 L505.33,548.21 L506.51,548.94 L507.68,549.69 L508.85,550.46 L510.02,551.24 L511.19,552.04 L512.36,552.86 L513.53,553.68 L514.70,554.53 L515.88,555.39 L517.05,556.26 L518.22,557.15 L519.39,558.06 L520.56,558.98 L521.73,559.91 L522.90,560.86 L524.07,561.83 L525.24,562.81 L526.42,563.81 L527.59,564.82 L528.76,565.84 L529.93,566.89 L531.10,567.94 L532.27,569.01 L533.44,570.10 L534.61,571.20 L535.79,572.32 L536.96,573.45 L538.13,574.60 L539.30,575.76 L540.47,576.94 L541.64,578.13 L542.81,579.34 L543.98,580.56 L545.15,581.80 L546.33,583.05 L547.50,584.32 L548.67,585.60 L549.84,586.89 L551.01,588.20 L552.18,589.53 L553.35,590.87 L554.52,592.22 L555.70,593.58 L556.87,594.96 L558.04,596.36 L559.21,597.77 L560.38,599.19 L561.55,600.63 L562.72,602.08 L563.89,603.54 L565.06,605.01 L566.24,606.50 L567.41,608.01 L568.58,609.52 L569.75,611.05 L570.92,612.60 L572.09,614.15 L573.26,615.72 L574.43,617.30 L575.61,618.89 L576.78,620.50 L577.95,622.12 L579.12,623.75 L580.29,625.39 L581.46,627.05 L582.63,628.72 L583.80,630.40 L584.97,632.09 L586.15,633.79 L587.32,635.51 L588.49,637.24 L589.66,638.98 L590.83,640.73 L592.00,642.49 L593.17,644.27 L594.34,646.05 L595.52,647.85 L596.69,649.66 L597.86,651.48 L599.03,653.31 L600.20,655.15" fill="none" stroke="#000" stroke-width="3.2" stroke-dasharray="16.9 7.6" stroke-dashoffset="21.47"/>
<path d="M132.90,709.83 L134.07,709.06 L135.24,708.29 L136.41,707.50 L137.58,706.70 L138.76,705.89 L139.93,705.08 L141.10,704.25 L142.27,703.41 L143.44,702.55 L144.61,701.69 L145.78,700.82 L146.95,699.94 L148.13,699.06 L149.30,698.16 L150.47,697.25 L151.64,696.33 L152.81,695.41 L153.98,694.47 L155.15,693.53 L156.32,692.58 L157.49,691.62 L158.67,690.65 L159.84,689.68 L161.01,688.70 L162.18,687.71 L163.35,686.71 L164.52,685.71 L165.69,684.70 L166.86,683.68 L168.04,682.66 L169.21,681.63 L170.38,680.59 L171.55,679.55 L172.72,678.50 L173.89,677.44 L175.06,676.38 L176.23,675.32 L177.40,674.25 L178.58,673.17 L179.75,672.09 L180.92,671.01 L182.09,669.92 L183.26,668.82 L184.43,667.72 L185.60,666.62 L186.77,665.52 L187.95,664.41 L189.12,663.29 L190.29,662.18 L191.46,661.06 L192.63,659.93 L193.80,658.81 L194.97,657.68 L196.14,656.55 L197.31,655.41 L198.49,654.27 L199.66,653.13 L200.83,651.99 L202.00,650.84 L203.17,649.69 L204.34,648.53 L205.51,647.38 L206.68,646.22 L207.86,645.05 L209.03,643.88 L210.20,642.71 L211.37,641.54 L212.54,640.36 L213.71,639.18 L214.88,638.00 L216.05,636.81 L217.22,635.62 L218.40,634.42 L219.57,633.23 L220.74,632.02 L221.91,630.82 L223.08,629.61 L224.25,628.40 L225.42,627.18 L226.59,625.96 L227.77,624.74 L228.94,623.51 L230.11,622.28 L231.28,621.05 L232.45,619.81 L233.62,618.57 L234.79,617.32 L235.96,616.07 L237.13,614.82 L238.31,613.56 L239.48,612.30 L240.65,611.04 L241.82,609.77 L242.99,608.50 L244.16,607.22 L245.33,605.94 L246.50,604.66 L247.68,603.37 L248.85,602.08 L250.02,600.78 L251.19,599.48 L252.36,598.18 L253.53,596.87 L254.70,595.56 L255.87,594.24 L257.04,592.92 L258.22,591.60 L259.39,590.28 L260.56,588.95 L261.73,587.62 L262.90,586.29 L264.07,584.95 L265.24,583.62 L266.41,582.28 L267.59,580.94 L268.76,579.59 L269.93,578.25 L271.10,576.90 L272.27,575.55 L273.44,574.20 L274.61,572.85 L275.78,571.50 L276.95,570.15 L278.13,568.79 L279.30,567.44 L280.47,566.08 L281.64,564.73 L282.81,563.37 L283.98,562.02 L285.15,560.66 L286.32,559.31 L287.50,557.95 L288.67,556.60 L289.84,555.25 L291.01,553.89 L292.18,552.54 L293.35,551.19 L294.52,549.84 L295.69,548.50 L296.86,547.15 L298.04,545.80 L299.21,544.46 L300.38,543.12 L301.55,541.78 L302.72,540.44 L303.89,539.11 L305.06,537.78 L306.23,536.45 L307.41,535.12 L308.58,533.80 L309.75,532.48 L310.92,531.16 L312.09,529.84 L313.26,528.53 L314.43,527.23 L315.60,525.92 L316.77,524.62 L317.95,523.32 L319.12,522.03 L320.29,520.74 L321.46,519.46 L322.63,518.18 L323.80,516.90 L324.97,515.63 L326.14,514.36 L327.32,513.10 L328.49,511.84 L329.66,510.59 L330.83,509.34 L332.00,508.10 L333.17,506.86 L334.34,505.63 L335.51,504.40 L336.68,503.18 L337.86,501.96 L339.03,500.75 L340.20,499.55 L341.37,498.35 L342.54,497.15 L343.71,495.97 L344.88,494.79 L346.05,493.61 L347.23,492.44 L348.40,491.28 L349.57,490.13 L350.74,488.98 L351.91,487.84 L353.08,486.70 L354.25,485.57 L355.42,484.45 L356.59,483.34 L357.77,482.23 L358.94,481.14 L360.11,480.05 L361.28,478.96 L362.45,477.89 L363.62,476.82 L364.79,475.76 L365.96,474.71 L367.14,473.67 L368.31,472.63 L369.48,471.60 L370.65,470.59 L371.82,469.58 L372.99,468.58 L374.16,467.59 L375.33,466.61 L376.51,465.64 L377.68,464.68 L378.85,463.72 L380.02,462.78 L381.19,461.85 L382.36,460.93 L383.53,460.03 L384.70,459.13 L385.87,458.24 L387.05,457.37 L388.22,456.50 L389.39,455.65 L390.56,454.81 L391.73,453.99 L392.90,453.17 L394.07,452.37 L395.24,451.58 L396.42,450.81 L397.59,450.05 L398.76,449.30 L399.93,448.56 L401.10,447.84 L402.27,447.13 L403.44,446.44 L404.61,445.76 L405.78,445.10 L406.96,444.45 L408.13,443.81 L409.30,443.20 L410.47,442.59 L411.64,442.00 L412.81,441.43 L413.98,440.88 L415.15,440.34 L416.33,439.81 L417.50,439.31 L418.67,438.82 L419.84,438.34 L421.01,437.89 L422.18,437.45 L423.35,437.03 L424.52,436.63 L425.69,436.24 L426.87,435.88 L428.04,435.53 L429.21,435.20 L430.38,434.89 L431.55,434.59 L432.72,434.32 L433.89,434.06 L435.06,433.82 L436.24,433.60 L437.41,433.40 L438.58,433.22 L439.75,433.05 L440.92,432.91 L442.09,432.78 L443.26,432.68 L444.43,432.59 L445.60,432.52 L446.78,432.47 L447.95,432.44 L449.12,432.43 L450.29,432.43 L451.46,432.46 L452.63,432.51 L453.80,432.57 L454.97,432.66 L456.15,432.76 L457.32,432.89 L458.49,433.03 L459.66,433.19 L460.83,433.38 L462.00,433.58 L463.17,433.80 L464.34,434.04 L465.51,434.31 L466.69,434.59 L467.86,434.89 L469.03,435.22 L470.20,435.56 L471.37,435.92 L472.54,436.31 L473.71,436.71 L474.88,437.13 L476.06,437.58 L477.23,438.04 L478.40,438.53 L479.57,439.04 L480.74,439.56 L481.91,440.11 L483.08,440.68 L484.25,441.27 L485.42,441.88 L486.60,442.51 L487.77,443.17 L488.94,443.84 L490.11,444.53 L491.28,445.25 L492.45,445.98 L493.62,446.74 L494.79,447.52 L495.97,448.32 L497.14,449.13 L498.31,449.97 L499.48,450.83 L500.65,451.71 L501.82,452.61 L502.99,453.54 L504.16,454.48 L505.33,455.44 L506.51,456.42 L507.68,457.43 L508.85,458.45 L510.02,459.50 L511.19,460.56 L512.36,461.65 L513.53,462.76 L514.70,463.88 L515.88,465.03 L517.05,466.20 L518.22,467.39 L519.39,468.59 L520.56,469.82 L521.73,471.07 L522.90,472.34 L524.07,473.63 L525.24,474.94 L526.42,476.27 L527.59,477.62 L528.76,478.99 L529.93,480.38 L531.10,481.79 L532.27,483.22 L533.44,484.68 L534.61,486.15 L535.79,487.64 L536.96,489.15 L538.13,490.68 L539.30,492.23 L540.47,493.81 L541.64,495.40 L542.81,497.01 L543.98,498.64 L545.15,500.29 L546.33,501.96 L547.50,503.65 L548.67,505.36 L549.84,507.09 L551.01,508.84 L552.18,510.61 L553.35,512.40 L554.52,514.20 L555.70,516.03 L556.87,517.87 L558.04,519.73 L559.21,521.61 L560.38,523.51 L561.55,525.43 L562.72,527.36 L563.89,529.32 L565.06,531.29 L566.24,533.28 L567.41,535.28 L568.58,537.31 L569.75,539.35 L570.92,541.41 L572.09,543.49 L573.26,545.58 L574.43,547.69 L575.61,549.82 L576.78,551.96 L577.95,554.12 L579.12,556.30 L580.29,558.50 L581.46,560.71 L582.63,562.93 L583.80,565.18 L584.97,567.44 L586.15,569.71 L587.32,572.00 L588.49,574.31 L589.66,576.63 L590.83,578.97 L592.00,581.32 L593.17,583.69 L594.34,586.08 L595.52,588.48 L596.69,590.89 L597.86,593.32 L599.03,595.76 L600.20,598.22" fill="none" stroke="#d41418" stroke-width="3.2"/>
<line x1="123.00" y1="523.50" x2="123.00" y2="630.70" stroke="#000" stroke-width="2.3"/>
<line x1="119.00" y1="523.50" x2="127.00" y2="523.50" stroke="#000" stroke-width="2.5"/>
<line x1="119.00" y1="630.70" x2="127.00" y2="630.70" stroke="#000" stroke-width="2.5"/>
<rect x="116.05" y="570.35" width="13.9" height="13.9" fill="#000"/>
<line x1="177.55" y1="616.00" x2="177.55" y2="701.40" stroke="#000" stroke-width="2.3"/>
<line x1="173.55" y1="616.00" x2="181.55" y2="616.00" stroke="#000" stroke-width="2.5"/>
<line x1="173.55" y1="701.40" x2="181.55" y2="701.40" stroke="#000" stroke-width="2.5"/>
<rect x="170.60" y="651.75" width="13.9" height="13.9" fill="#000"/>
<line x1="232.10" y1="596.90" x2="232.10" y2="683.80" stroke="#000" stroke-width="2.3"/>
<line x1="228.10" y1="596.90" x2="236.10" y2="596.90" stroke="#000" stroke-width="2.5"/>
<line x1="228.10" y1="683.80" x2="236.10" y2="683.80" stroke="#000" stroke-width="2.5"/>
<rect x="225.15" y="633.55" width="13.9" height="13.9" fill="#000"/>
<line x1="286.65" y1="517.70" x2="286.65" y2="596.00" stroke="#000" stroke-width="2.3"/>
<line x1="282.65" y1="517.70" x2="290.65" y2="517.70" stroke="#000" stroke-width="2.5"/>
<line x1="282.65" y1="596.00" x2="290.65" y2="596.00" stroke="#000" stroke-width="2.5"/>
<rect x="279.70" y="550.55" width="13.9" height="13.9" fill="#000"/>
<line x1="341.20" y1="429.10" x2="341.20" y2="501.80" stroke="#000" stroke-width="2.3"/>
<line x1="337.20" y1="429.10" x2="345.20" y2="429.10" stroke="#000" stroke-width="2.5"/>
<line x1="337.20" y1="501.80" x2="345.20" y2="501.80" stroke="#000" stroke-width="2.5"/>
<rect x="334.25" y="458.75" width="13.9" height="13.9" fill="#000"/>
<line x1="395.75" y1="445.00" x2="395.75" y2="526.30" stroke="#000" stroke-width="2.3"/>
<line x1="391.75" y1="445.00" x2="399.75" y2="445.00" stroke="#000" stroke-width="2.5"/>
<line x1="391.75" y1="526.30" x2="399.75" y2="526.30" stroke="#000" stroke-width="2.5"/>
<rect x="388.80" y="478.95" width="13.9" height="13.9" fill="#000"/>
<line x1="450.30" y1="437.40" x2="450.30" y2="530.40" stroke="#000" stroke-width="2.3"/>
<line x1="446.30" y1="437.40" x2="454.30" y2="437.40" stroke="#000" stroke-width="2.5"/>
<line x1="446.30" y1="530.40" x2="454.30" y2="530.40" stroke="#000" stroke-width="2.5"/>
<rect x="443.35" y="478.35" width="13.9" height="13.9" fill="#000"/>
<line x1="504.85" y1="435.90" x2="504.85" y2="540.70" stroke="#000" stroke-width="2.3"/>
<line x1="500.85" y1="435.90" x2="508.85" y2="435.90" stroke="#000" stroke-width="2.5"/>
<line x1="500.85" y1="540.70" x2="508.85" y2="540.70" stroke="#000" stroke-width="2.5"/>
<rect x="497.90" y="481.15" width="13.9" height="13.9" fill="#000"/>
<line x1="559.40" y1="454.40" x2="559.40" y2="564.50" stroke="#000" stroke-width="2.3"/>
<line x1="555.40" y1="454.40" x2="563.40" y2="454.40" stroke="#000" stroke-width="2.5"/>
<line x1="555.40" y1="564.50" x2="563.40" y2="564.50" stroke="#000" stroke-width="2.5"/>
<rect x="552.45" y="502.55" width="13.9" height="13.9" fill="#000"/>
<line x1="613.95" y1="540.40" x2="613.95" y2="670.40" stroke="#000" stroke-width="2.3"/>
<line x1="609.95" y1="540.40" x2="617.95" y2="540.40" stroke="#000" stroke-width="2.5"/>
<line x1="609.95" y1="670.40" x2="617.95" y2="670.40" stroke="#000" stroke-width="2.5"/>
<rect x="607.00" y="597.85" width="13.9" height="13.9" fill="#000"/>
</g>
<clipPath id="clipd"><rect x="624.70" y="369.40" width="520.80" height="368.00"/></clipPath>
<g clip-path="url(#clipd)">
<path d="M653.70,735.33 L654.87,734.73 L656.04,734.13 L657.21,733.51 L658.38,732.89 L659.56,732.26 L660.73,731.63 L661.90,730.98 L663.07,730.33 L664.24,729.66 L665.41,728.99 L666.58,728.32 L667.75,727.63 L668.93,726.94 L670.10,726.24 L671.27,725.53 L672.44,724.82 L673.61,724.10 L674.78,723.37 L675.95,722.64 L677.12,721.90 L678.29,721.15 L679.47,720.40 L680.64,719.64 L681.81,718.87 L682.98,718.10 L684.15,717.33 L685.32,716.55 L686.49,715.76 L687.66,714.97 L688.84,714.17 L690.01,713.37 L691.18,712.56 L692.35,711.75 L693.52,710.93 L694.69,710.11 L695.86,709.28 L697.03,708.46 L698.20,707.62 L699.38,706.78 L700.55,705.94 L701.72,705.10 L702.89,704.25 L704.06,703.40 L705.23,702.54 L706.40,701.68 L707.57,700.82 L708.75,699.96 L709.92,699.09 L711.09,698.22 L712.26,697.35 L713.43,696.48 L714.60,695.60 L715.77,694.72 L716.94,693.84 L718.11,692.96 L719.29,692.07 L720.46,691.18 L721.63,690.29 L722.80,689.40 L723.97,688.50 L725.14,687.60 L726.31,686.70 L727.48,685.80 L728.66,684.89 L729.83,683.98 L731.00,683.07 L732.17,682.15 L733.34,681.24 L734.51,680.32 L735.68,679.40 L736.85,678.47 L738.02,677.54 L739.20,676.61 L740.37,675.68 L741.54,674.74 L742.71,673.81 L743.88,672.87 L745.05,671.92 L746.22,670.97 L747.39,670.02 L748.57,669.07 L749.74,668.12 L750.91,667.16 L752.08,666.20 L753.25,665.23 L754.42,664.27 L755.59,663.30 L756.76,662.32 L757.93,661.35 L759.11,660.37 L760.28,659.39 L761.45,658.40 L762.62,657.42 L763.79,656.43 L764.96,655.43 L766.13,654.44 L767.30,653.44 L768.48,652.43 L769.65,651.43 L770.82,650.42 L771.99,649.40 L773.16,648.39 L774.33,647.37 L775.50,646.35 L776.67,645.33 L777.84,644.30 L779.02,643.27 L780.19,642.24 L781.36,641.21 L782.53,640.17 L783.70,639.13 L784.87,638.09 L786.04,637.05 L787.21,636.01 L788.39,634.96 L789.56,633.92 L790.73,632.87 L791.90,631.82 L793.07,630.77 L794.24,629.72 L795.41,628.67 L796.58,627.62 L797.75,626.56 L798.93,625.51 L800.10,624.46 L801.27,623.40 L802.44,622.35 L803.61,621.29 L804.78,620.24 L805.95,619.18 L807.12,618.13 L808.30,617.07 L809.47,616.02 L810.64,614.96 L811.81,613.91 L812.98,612.86 L814.15,611.81 L815.32,610.76 L816.49,609.71 L817.66,608.66 L818.84,607.61 L820.01,606.56 L821.18,605.52 L822.35,604.48 L823.52,603.44 L824.69,602.40 L825.86,601.36 L827.03,600.32 L828.21,599.29 L829.38,598.26 L830.55,597.23 L831.72,596.21 L832.89,595.18 L834.06,594.16 L835.23,593.14 L836.40,592.13 L837.57,591.12 L838.75,590.11 L839.92,589.10 L841.09,588.10 L842.26,587.10 L843.43,586.10 L844.60,585.11 L845.77,584.12 L846.94,583.13 L848.12,582.15 L849.29,581.17 L850.46,580.19 L851.63,579.22 L852.80,578.25 L853.97,577.29 L855.14,576.33 L856.31,575.37 L857.48,574.42 L858.66,573.47 L859.83,572.53 L861.00,571.59 L862.17,570.66 L863.34,569.73 L864.51,568.80 L865.68,567.88 L866.85,566.97 L868.03,566.06 L869.20,565.16 L870.37,564.26 L871.54,563.36 L872.71,562.47 L873.88,561.59 L875.05,560.71 L876.22,559.84 L877.39,558.97 L878.57,558.11 L879.74,557.26 L880.91,556.41 L882.08,555.56 L883.25,554.73 L884.42,553.90 L885.59,553.07 L886.76,552.25 L887.94,551.44 L889.11,550.63 L890.28,549.83 L891.45,549.04 L892.62,548.26 L893.79,547.48 L894.96,546.71 L896.13,545.94 L897.31,545.19 L898.48,544.44 L899.65,543.70 L900.82,542.97 L901.99,542.24 L903.16,541.53 L904.33,540.82 L905.50,540.12 L906.67,539.43 L907.85,538.75 L909.02,538.08 L910.19,537.41 L911.36,536.76 L912.53,536.12 L913.70,535.48 L914.87,534.86 L916.04,534.25 L917.22,533.64 L918.39,533.05 L919.56,532.46 L920.73,531.89 L921.90,531.33 L923.07,530.78 L924.24,530.24 L925.41,529.71 L926.58,529.20 L927.76,528.69 L928.93,528.20 L930.10,527.71 L931.27,527.24 L932.44,526.79 L933.61,526.34 L934.78,525.91 L935.95,525.49 L937.13,525.08 L938.30,524.69 L939.47,524.31 L940.64,523.94 L941.81,523.58 L942.98,523.24 L944.15,522.91 L945.32,522.60 L946.49,522.30 L947.67,522.02 L948.84,521.74 L950.01,521.49 L951.18,521.24 L952.35,521.02 L953.52,520.80 L954.69,520.60 L955.86,520.42 L957.04,520.24 L958.21,520.09 L959.38,519.95 L960.55,519.82 L961.72,519.71 L962.89,519.61 L964.06,519.52 L965.23,519.46 L966.40,519.40 L967.58,519.36 L968.75,519.34 L969.92,519.33 L971.09,519.33 L972.26,519.36 L973.43,519.39 L974.60,519.44 L975.77,519.51 L976.95,519.59 L978.12,519.69 L979.29,519.80 L980.46,519.93 L981.63,520.07 L982.80,520.23 L983.97,520.40 L985.14,520.59 L986.31,520.79 L987.49,521.01 L988.66,521.25 L989.83,521.50 L991.00,521.77 L992.17,522.05 L993.34,522.35 L994.51,522.66 L995.68,522.99 L996.86,523.34 L998.03,523.70 L999.20,524.08 L1000.37,524.48 L1001.54,524.89 L1002.71,525.31 L1003.88,525.76 L1005.05,526.22 L1006.22,526.69 L1007.40,527.18 L1008.57,527.69 L1009.74,528.22 L1010.91,528.76 L1012.08,529.31 L1013.25,529.89 L1014.42,530.47 L1015.59,531.08 L1016.77,531.70 L1017.94,532.34 L1019.11,532.99 L1020.28,533.66 L1021.45,534.35 L1022.62,535.05 L1023.79,535.77 L1024.96,536.50 L1026.13,537.25 L1027.31,538.02 L1028.48,538.80 L1029.65,539.59 L1030.82,540.41 L1031.99,541.24 L1033.16,542.08 L1034.33,542.95 L1035.50,543.82 L1036.68,544.72 L1037.85,545.62 L1039.02,546.55 L1040.19,547.49 L1041.36,548.45 L1042.53,549.42 L1043.70,550.41 L1044.87,551.41 L1046.04,552.43 L1047.22,553.47 L1048.39,554.52 L1049.56,555.59 L1050.73,556.67 L1051.90,557.77 L1053.07,558.88 L1054.24,560.01 L1055.41,561.16 L1056.59,562.32 L1057.76,563.50 L1058.93,564.69 L1060.10,565.90 L1061.27,567.12 L1062.44,568.36 L1063.61,569.62 L1064.78,570.89 L1065.95,572.17 L1067.13,573.47 L1068.30,574.79 L1069.47,576.12 L1070.64,577.47 L1071.81,578.83 L1072.98,580.21 L1074.15,581.60 L1075.32,583.00 L1076.50,584.42 L1077.67,585.86 L1078.84,587.31 L1080.01,588.77 L1081.18,590.25 L1082.35,591.75 L1083.52,593.25 L1084.69,594.77 L1085.86,596.31 L1087.04,597.86 L1088.21,599.42 L1089.38,601.00 L1090.55,602.58 L1091.72,604.19 L1092.89,605.81 L1094.06,607.44 L1095.23,609.08 L1096.41,610.74 L1097.58,612.41 L1098.75,614.09 L1099.92,615.78 L1101.09,617.49 L1102.26,619.21 L1103.43,620.95 L1104.60,622.70 L1105.77,624.45 L1106.95,626.23 L1108.12,628.01 L1109.29,629.81 L1110.46,631.61 L1111.63,633.44 L1112.80,635.27 L1113.97,637.11 L1115.14,638.97 L1116.32,640.84 L1117.49,642.72 L1118.66,644.61 L1119.83,646.51 L1121.00,648.42" fill="none" stroke="#000" stroke-width="3.2" stroke-dasharray="16.9 7.6" stroke-dashoffset="0.35"/>
<path d="M653.70,709.14 L654.87,708.37 L656.04,707.59 L657.21,706.80 L658.38,705.99 L659.56,705.18 L660.73,704.36 L661.90,703.52 L663.07,702.68 L664.24,701.82 L665.41,700.95 L666.58,700.08 L667.75,699.19 L668.93,698.30 L670.10,697.40 L671.27,696.48 L672.44,695.56 L673.61,694.63 L674.78,693.69 L675.95,692.74 L677.12,691.79 L678.29,690.82 L679.47,689.85 L680.64,688.87 L681.81,687.88 L682.98,686.88 L684.15,685.88 L685.32,684.87 L686.49,683.86 L687.66,682.83 L688.84,681.80 L690.01,680.77 L691.18,679.72 L692.35,678.67 L693.52,677.62 L694.69,676.56 L695.86,675.49 L697.03,674.42 L698.20,673.34 L699.38,672.26 L700.55,671.17 L701.72,670.08 L702.89,668.99 L704.06,667.89 L705.23,666.78 L706.40,665.67 L707.57,664.56 L708.75,663.44 L709.92,662.32 L711.09,661.20 L712.26,660.07 L713.43,658.94 L714.60,657.81 L715.77,656.67 L716.94,655.54 L718.11,654.39 L719.29,653.25 L720.46,652.10 L721.63,650.95 L722.80,649.79 L723.97,648.64 L725.14,647.48 L726.31,646.31 L727.48,645.14 L728.66,643.97 L729.83,642.80 L731.00,641.62 L732.17,640.44 L733.34,639.25 L734.51,638.07 L735.68,636.88 L736.85,635.68 L738.02,634.48 L739.20,633.28 L740.37,632.07 L741.54,630.87 L742.71,629.65 L743.88,628.44 L745.05,627.22 L746.22,625.99 L747.39,624.77 L748.57,623.54 L749.74,622.30 L750.91,621.07 L752.08,619.82 L753.25,618.58 L754.42,617.33 L755.59,616.08 L756.76,614.82 L757.93,613.56 L759.11,612.29 L760.28,611.03 L761.45,609.75 L762.62,608.48 L763.79,607.20 L764.96,605.91 L766.13,604.63 L767.30,603.33 L768.48,602.04 L769.65,600.74 L770.82,599.43 L771.99,598.13 L773.16,596.81 L774.33,595.50 L775.50,594.18 L776.67,592.86 L777.84,591.53 L779.02,590.20 L780.19,588.87 L781.36,587.53 L782.53,586.20 L783.70,584.86 L784.87,583.51 L786.04,582.17 L787.21,580.82 L788.39,579.47 L789.56,578.12 L790.73,576.77 L791.90,575.41 L793.07,574.05 L794.24,572.70 L795.41,571.34 L796.58,569.98 L797.75,568.62 L798.93,567.26 L800.10,565.89 L801.27,564.53 L802.44,563.17 L803.61,561.80 L804.78,560.44 L805.95,559.08 L807.12,557.72 L808.30,556.35 L809.47,554.99 L810.64,553.63 L811.81,552.27 L812.98,550.91 L814.15,549.55 L815.32,548.19 L816.49,546.84 L817.66,545.48 L818.84,544.13 L820.01,542.78 L821.18,541.43 L822.35,540.08 L823.52,538.74 L824.69,537.39 L825.86,536.05 L827.03,534.72 L828.21,533.38 L829.38,532.05 L830.55,530.72 L831.72,529.40 L832.89,528.07 L834.06,526.75 L835.23,525.44 L836.40,524.13 L837.57,522.82 L838.75,521.51 L839.92,520.21 L841.09,518.92 L842.26,517.63 L843.43,516.34 L844.60,515.05 L845.77,513.77 L846.94,512.50 L848.12,511.23 L849.29,509.96 L850.46,508.70 L851.63,507.45 L852.80,506.20 L853.97,504.95 L855.14,503.71 L856.31,502.48 L857.48,501.25 L858.66,500.02 L859.83,498.80 L861.00,497.59 L862.17,496.39 L863.34,495.19 L864.51,493.99 L865.68,492.80 L866.85,491.62 L868.03,490.45 L869.20,489.28 L870.37,488.12 L871.54,486.96 L872.71,485.81 L873.88,484.67 L875.05,483.54 L876.22,482.41 L877.39,481.29 L878.57,480.18 L879.74,479.07 L880.91,477.98 L882.08,476.89 L883.25,475.80 L884.42,474.73 L885.59,473.66 L886.76,472.61 L887.94,471.56 L889.11,470.52 L890.28,469.48 L891.45,468.46 L892.62,467.45 L893.79,466.44 L894.96,465.44 L896.13,464.46 L897.31,463.48 L898.48,462.51 L899.65,461.56 L900.82,460.61 L901.99,459.67 L903.16,458.75 L904.33,457.84 L905.50,456.93 L906.67,456.04 L907.85,455.16 L909.02,454.29 L910.19,453.44 L911.36,452.59 L912.53,451.76 L913.70,450.94 L914.87,450.14 L916.04,449.34 L917.22,448.56 L918.39,447.80 L919.56,447.04 L920.73,446.30 L921.90,445.58 L923.07,444.87 L924.24,444.17 L925.41,443.49 L926.58,442.82 L927.76,442.16 L928.93,441.53 L930.10,440.90 L931.27,440.30 L932.44,439.71 L933.61,439.13 L934.78,438.57 L935.95,438.03 L937.13,437.50 L938.30,436.99 L939.47,436.50 L940.64,436.02 L941.81,435.57 L942.98,435.13 L944.15,434.70 L945.32,434.30 L946.49,433.91 L947.67,433.54 L948.84,433.19 L950.01,432.86 L951.18,432.54 L952.35,432.25 L953.52,431.97 L954.69,431.71 L955.86,431.47 L957.04,431.25 L958.21,431.05 L959.38,430.87 L960.55,430.70 L961.72,430.56 L962.89,430.43 L964.06,430.32 L965.23,430.23 L966.40,430.16 L967.58,430.11 L968.75,430.08 L969.92,430.07 L971.09,430.08 L972.26,430.11 L973.43,430.15 L974.60,430.22 L975.77,430.30 L976.95,430.41 L978.12,430.53 L979.29,430.68 L980.46,430.84 L981.63,431.03 L982.80,431.23 L983.97,431.45 L985.14,431.70 L986.31,431.96 L987.49,432.25 L988.66,432.55 L989.83,432.88 L991.00,433.22 L992.17,433.59 L993.34,433.97 L994.51,434.38 L995.68,434.81 L996.86,435.25 L998.03,435.72 L999.20,436.21 L1000.37,436.72 L1001.54,437.25 L1002.71,437.80 L1003.88,438.38 L1005.05,438.97 L1006.22,439.58 L1007.40,440.22 L1008.57,440.87 L1009.74,441.55 L1010.91,442.25 L1012.08,442.97 L1013.25,443.71 L1014.42,444.47 L1015.59,445.25 L1016.77,446.05 L1017.94,446.88 L1019.11,447.72 L1020.28,448.59 L1021.45,449.47 L1022.62,450.38 L1023.79,451.31 L1024.96,452.26 L1026.13,453.22 L1027.31,454.21 L1028.48,455.22 L1029.65,456.25 L1030.82,457.31 L1031.99,458.38 L1033.16,459.47 L1034.33,460.58 L1035.50,461.72 L1036.68,462.87 L1037.85,464.04 L1039.02,465.24 L1040.19,466.46 L1041.36,467.69 L1042.53,468.95 L1043.70,470.23 L1044.87,471.52 L1046.04,472.84 L1047.22,474.18 L1048.39,475.54 L1049.56,476.92 L1050.73,478.31 L1051.90,479.73 L1053.07,481.17 L1054.24,482.63 L1055.41,484.11 L1056.59,485.61 L1057.76,487.13 L1058.93,488.68 L1060.10,490.24 L1061.27,491.82 L1062.44,493.42 L1063.61,495.04 L1064.78,496.68 L1065.95,498.34 L1067.13,500.02 L1068.30,501.73 L1069.47,503.45 L1070.64,505.19 L1071.81,506.94 L1072.98,508.72 L1074.15,510.52 L1075.32,512.34 L1076.50,514.17 L1077.67,516.03 L1078.84,517.90 L1080.01,519.79 L1081.18,521.70 L1082.35,523.63 L1083.52,525.58 L1084.69,527.54 L1085.86,529.53 L1087.04,531.53 L1088.21,533.55 L1089.38,535.58 L1090.55,537.64 L1091.72,539.71 L1092.89,541.80 L1094.06,543.90 L1095.23,546.03 L1096.41,548.17 L1097.58,550.32 L1098.75,552.50 L1099.92,554.69 L1101.09,556.90 L1102.26,559.12 L1103.43,561.36 L1104.60,563.62 L1105.77,565.89 L1106.95,568.18 L1108.12,570.49 L1109.29,572.81 L1110.46,575.14 L1111.63,577.49 L1112.80,579.86 L1113.97,582.25 L1115.14,584.64 L1116.32,587.06 L1117.49,589.49 L1118.66,591.93 L1119.83,594.39 L1121.00,596.86" fill="none" stroke="#d41418" stroke-width="3.2"/>
<line x1="643.80" y1="523.50" x2="643.80" y2="630.70" stroke="#000" stroke-width="2.3"/>
<line x1="639.80" y1="523.50" x2="647.80" y2="523.50" stroke="#000" stroke-width="2.5"/>
<line x1="639.80" y1="630.70" x2="647.80" y2="630.70" stroke="#000" stroke-width="2.5"/>
<rect x="636.85" y="570.35" width="13.9" height="13.9" fill="#000"/>
<line x1="698.35" y1="616.00" x2="698.35" y2="701.40" stroke="#000" stroke-width="2.3"/>
<line x1="694.35" y1="616.00" x2="702.35" y2="616.00" stroke="#000" stroke-width="2.5"/>
<line x1="694.35" y1="701.40" x2="702.35" y2="701.40" stroke="#000" stroke-width="2.5"/>
<rect x="691.40" y="651.75" width="13.9" height="13.9" fill="#000"/>
<line x1="752.90" y1="596.90" x2="752.90" y2="683.80" stroke="#000" stroke-width="2.3"/>
<line x1="748.90" y1="596.90" x2="756.90" y2="596.90" stroke="#000" stroke-width="2.5"/>
<line x1="748.90" y1="683.80" x2="756.90" y2="683.80" stroke="#000" stroke-width="2.5"/>
<rect x="745.95" y="633.55" width="13.9" height="13.9" fill="#000"/>
<line x1="807.45" y1="517.70" x2="807.45" y2="596.00" stroke="#000" stroke-width="2.3"/>
<line x1="803.45" y1="517.70" x2="811.45" y2="517.70" stroke="#000" stroke-width="2.5"/>
<line x1="803.45" y1="596.00" x2="811.45" y2="596.00" stroke="#000" stroke-width="2.5"/>
<rect x="800.50" y="550.55" width="13.9" height="13.9" fill="#000"/>
<line x1="862.00" y1="429.10" x2="862.00" y2="501.80" stroke="#000" stroke-width="2.3"/>
<line x1="858.00" y1="429.10" x2="866.00" y2="429.10" stroke="#000" stroke-width="2.5"/>
<line x1="858.00" y1="501.80" x2="866.00" y2="501.80" stroke="#000" stroke-width="2.5"/>
<rect x="855.05" y="458.75" width="13.9" height="13.9" fill="#000"/>
<line x1="916.55" y1="445.00" x2="916.55" y2="526.30" stroke="#000" stroke-width="2.3"/>
<line x1="912.55" y1="445.00" x2="920.55" y2="445.00" stroke="#000" stroke-width="2.5"/>
<line x1="912.55" y1="526.30" x2="920.55" y2="526.30" stroke="#000" stroke-width="2.5"/>
<rect x="909.60" y="478.95" width="13.9" height="13.9" fill="#000"/>
<line x1="971.10" y1="437.40" x2="971.10" y2="530.40" stroke="#000" stroke-width="2.3"/>
<line x1="967.10" y1="437.40" x2="975.10" y2="437.40" stroke="#000" stroke-width="2.5"/>
<line x1="967.10" y1="530.40" x2="975.10" y2="530.40" stroke="#000" stroke-width="2.5"/>
<rect x="964.15" y="478.35" width="13.9" height="13.9" fill="#000"/>
<line x1="1025.65" y1="435.90" x2="1025.65" y2="540.70" stroke="#000" stroke-width="2.3"/>
<line x1="1021.65" y1="435.90" x2="1029.65" y2="435.90" stroke="#000" stroke-width="2.5"/>
<line x1="1021.65" y1="540.70" x2="1029.65" y2="540.70" stroke="#000" stroke-width="2.5"/>
<rect x="1018.70" y="481.15" width="13.9" height="13.9" fill="#000"/>
<line x1="1080.20" y1="454.40" x2="1080.20" y2="564.50" stroke="#000" stroke-width="2.3"/>
<line x1="1076.20" y1="454.40" x2="1084.20" y2="454.40" stroke="#000" stroke-width="2.5"/>
<line x1="1076.20" y1="564.50" x2="1084.20" y2="564.50" stroke="#000" stroke-width="2.5"/>
<rect x="1073.25" y="502.55" width="13.9" height="13.9" fill="#000"/>
<line x1="1134.75" y1="540.40" x2="1134.75" y2="670.40" stroke="#000" stroke-width="2.3"/>
<line x1="1130.75" y1="540.40" x2="1138.75" y2="540.40" stroke="#000" stroke-width="2.5"/>
<line x1="1130.75" y1="670.40" x2="1138.75" y2="670.40" stroke="#000" stroke-width="2.5"/>
<rect x="1127.80" y="597.85" width="13.9" height="13.9" fill="#000"/>
</g>
<ellipse cx="147.6" cy="28.85" rx="7.1" ry="8.6" fill="none" stroke="#000" stroke-width="4.3"/>
<rect x="152.9" y="20.0" width="4.2" height="17.6" fill="#000"/>
<ellipse cx="669.3" cy="28.9" rx="7.1" ry="8.35" fill="none" stroke="#000" stroke-width="4.3"/>
<rect x="660.0" y="12.1" width="4.2" height="25.6" fill="#000"/>
<path d="M154.53,391.44 A7.8,8.25 0 1 0 154.53,401.36" fill="none" stroke="#000" stroke-width="4.3"/>
<ellipse cx="668.15" cy="396.65" rx="7.05" ry="8.3" fill="none" stroke="#000" stroke-width="4.3"/>
<rect x="673.2" y="379.9" width="4.2" height="25.0" fill="#000"/>
<text transform="matrix(0.2612 0 0 0.2850 45.54 30.26)" font-size="100" font-weight="normal" fill="#000" stroke="#000" stroke-width="1.10" stroke-linejoin="round">2</text>
<text transform="matrix(0.2847 0 0 0.2866 62.31 29.98)" font-size="100" font-weight="normal" fill="#000" stroke="#000" stroke-width="1.05" stroke-linejoin="round">5</text>
<text transform="matrix(0.2824 0 0 0.2881 79.15 29.98)" font-size="100" font-weight="normal" fill="#000" stroke="#000" stroke-width="1.05" stroke-linejoin="round">0</text>
<text transform="matrix(0.2612 0 0 0.2850 45.54 117.84)" font-size="100" font-weight="normal" fill="#000" stroke="#000" stroke-width="1.10" stroke-linejoin="round">2</text>
<text transform="matrix(0.2824 0 0 0.2881 62.35 117.55)" font-size="100" font-weight="normal" fill="#000" stroke="#000" stroke-width="1.05" stroke-linejoin="round">0</text>
<text transform="matrix(0.2824 0 0 0.2881 79.15 117.55)" font-size="100" font-weight="normal" fill="#000" stroke="#000" stroke-width="1.05" stroke-linejoin="round">0</text>
<path d="M50.15,189.86 L54.20,186.67 M54.20,185.46 L54.20,204.56" fill="none" stroke="#000" stroke-width="2.7" stroke-linecap="butt"/>
<text transform="matrix(0.2847 0 0 0.2866 62.31 205.13)" font-size="100" font-weight="normal" fill="#000" stroke="#000" stroke-width="1.05" stroke-linejoin="round">5</text>
<text transform="matrix(0.2824 0 0 0.2881 79.15 205.13)" font-size="100" font-weight="normal" fill="#000" stroke="#000" stroke-width="1.05" stroke-linejoin="round">0</text>
<path d="M50.15,277.43 L54.20,274.24 M54.20,273.03 L54.20,292.13" fill="none" stroke="#000" stroke-width="2.7" stroke-linecap="butt"/>
<text transform="matrix(0.2824 0 0 0.2881 62.35 292.70)" font-size="100" font-weight="normal" fill="#000" stroke="#000" stroke-width="1.05" stroke-linejoin="round">0</text>
<text transform="matrix(0.2824 0 0 0.2881 79.15 292.70)" font-size="100" font-weight="normal" fill="#000" stroke="#000" stroke-width="1.05" stroke-linejoin="round">0</text>
<text transform="matrix(0.2847 0 0 0.2866 62.31 370.87)" font-size="100" font-weight="normal" fill="#000" stroke="#000" stroke-width="1.05" stroke-linejoin="round">5</text>
<text transform="matrix(0.2824 0 0 0.2881 79.15 370.87)" font-size="100" font-weight="normal" fill="#000" stroke="#000" stroke-width="1.05" stroke-linejoin="round">0</text>
<text transform="matrix(0.2612 0 0 0.2850 45.54 398.07)" font-size="100" font-weight="normal" fill="#000" stroke="#000" stroke-width="1.10" stroke-linejoin="round">2</text>
<text transform="matrix(0.2847 0 0 0.2866 62.31 397.79)" font-size="100" font-weight="normal" fill="#000" stroke="#000" stroke-width="1.05" stroke-linejoin="round">5</text>
<text transform="matrix(0.2824 0 0 0.2881 79.15 397.79)" font-size="100" font-weight="normal" fill="#000" stroke="#000" stroke-width="1.05" stroke-linejoin="round">0</text>
<text transform="matrix(0.2612 0 0 0.2850 45.54 485.69)" font-size="100" font-weight="normal" fill="#000" stroke="#000" stroke-width="1.10" stroke-linejoin="round">2</text>
<text transform="matrix(0.2824 0 0 0.2881 62.35 485.41)" font-size="100" font-weight="normal" fill="#000" stroke="#000" stroke-width="1.05" stroke-linejoin="round">0</text>
<text transform="matrix(0.2824 0 0 0.2881 79.15 485.41)" font-size="100" font-weight="normal" fill="#000" stroke="#000" stroke-width="1.05" stroke-linejoin="round">0</text>
<path d="M50.15,557.76 L54.20,554.58 M54.20,553.36 L54.20,572.46" fill="none" stroke="#000" stroke-width="2.7" stroke-linecap="butt"/>
<text transform="matrix(0.2847 0 0 0.2866 62.31 573.03)" font-size="100" font-weight="normal" fill="#000" stroke="#000" stroke-width="1.05" stroke-linejoin="round">5</text>
<text transform="matrix(0.2824 0 0 0.2881 79.15 573.03)" font-size="100" font-weight="normal" fill="#000" stroke="#000" stroke-width="1.05" stroke-linejoin="round">0</text>
<path d="M50.15,645.38 L54.20,642.20 M54.20,640.98 L54.20,660.08" fill="none" stroke="#000" stroke-width="2.7" stroke-linecap="butt"/>
<text transform="matrix(0.2824 0 0 0.2881 62.35 660.65)" font-size="100" font-weight="normal" fill="#000" stroke="#000" stroke-width="1.05" stroke-linejoin="round">0</text>
<text transform="matrix(0.2824 0 0 0.2881 79.15 660.65)" font-size="100" font-weight="normal" fill="#000" stroke="#000" stroke-width="1.05" stroke-linejoin="round">0</text>
<text transform="matrix(0.2847 0 0 0.2866 62.31 738.87)" font-size="100" font-weight="normal" fill="#000" stroke="#000" stroke-width="1.05" stroke-linejoin="round">5</text>
<text transform="matrix(0.2824 0 0 0.2881 79.15 738.87)" font-size="100" font-weight="normal" fill="#000" stroke="#000" stroke-width="1.05" stroke-linejoin="round">0</text>
<path d="M185.04,761.20 L188.80,758.01 M188.80,756.80 L188.80,775.60" fill="none" stroke="#000" stroke-width="2.7" stroke-linecap="butt"/>
<path d="M459.05,761.20 L462.80,758.01 M462.80,756.80 L462.80,775.60" fill="none" stroke="#000" stroke-width="2.7" stroke-linecap="butt"/>
<text transform="matrix(0.2950 0 0 0.2768 470.70 775.88)" font-size="100" font-weight="normal" fill="#000" stroke="#000" stroke-width="1.05" stroke-linejoin="round">0</text>
<path d="M705.85,761.20 L709.60,758.01 M709.60,756.80 L709.60,775.60" fill="none" stroke="#000" stroke-width="2.7" stroke-linecap="butt"/>
<path d="M979.85,761.20 L983.60,758.01 M983.60,756.80 L983.60,775.60" fill="none" stroke="#000" stroke-width="2.7" stroke-linecap="butt"/>
<text transform="matrix(0.2950 0 0 0.2768 991.50 775.88)" font-size="100" font-weight="normal" fill="#000" stroke="#000" stroke-width="1.05" stroke-linejoin="round">0</text>
<text transform="matrix(0.3080 0 0 0.2323 285.50 807.85)" font-size="100" font-weight="normal" fill="#000" stroke="#000" stroke-width="3.33" stroke-linejoin="round">r</text>
<text transform="matrix(0.1747 0 0 0.1570 296.32 814.05)" font-size="100" font-weight="normal" fill="#000" stroke="#000" stroke-width="5.43" stroke-linejoin="round">P</text>
<text transform="matrix(0.2969 0 0 0.3058 321.33 808.91)" font-size="100" font-weight="normal" fill="#000" stroke="#000" stroke-width="2.99" stroke-linejoin="round">[</text>
<text transform="matrix(0.2560 0 0 0.2374 332.88 807.85)" font-size="100" font-weight="normal" fill="#000" stroke="#000" stroke-width="3.65" stroke-linejoin="round">h</text>
<text transform="matrix(0.2089 0 0 0.2432 350.27 799.01)" font-size="100" font-weight="normal" fill="#000" stroke="#000" stroke-width="1.77" stroke-linejoin="round">-</text>
<path d="M360.41,789.20 L362.90,788.63 M362.90,787.60 L362.90,795.70" fill="none" stroke="#000" stroke-width="2.3" stroke-linecap="butt"/>
<text transform="matrix(0.2628 0 0 0.2613 378.89 808.63)" font-size="100" font-weight="normal" fill="#000" stroke="#000" stroke-width="3.43" stroke-linejoin="round">Mpc</text>
<text transform="matrix(0.3120 0 0 0.3015 432.41 808.99)" font-size="100" font-weight="normal" fill="#000" stroke="#000" stroke-width="2.93" stroke-linejoin="round">]</text>
<text transform="matrix(0.3080 0 0 0.2323 806.30 807.85)" font-size="100" font-weight="normal" fill="#000" stroke="#000" stroke-width="3.33" stroke-linejoin="round">r</text>
<text transform="matrix(0.1747 0 0 0.1570 817.12 814.05)" font-size="100" font-weight="normal" fill="#000" stroke="#000" stroke-width="5.43" stroke-linejoin="round">P</text>
<text transform="matrix(0.2969 0 0 0.3058 842.13 808.91)" font-size="100" font-weight="normal" fill="#000" stroke="#000" stroke-width="2.99" stroke-linejoin="round">[</text>
<text transform="matrix(0.2560 0 0 0.2374 853.68 807.85)" font-size="100" font-weight="normal" fill="#000" stroke="#000" stroke-width="3.65" stroke-linejoin="round">h</text>
<text transform="matrix(0.2089 0 0 0.2432 871.07 799.01)" font-size="100" font-weight="normal" fill="#000" stroke="#000" stroke-width="1.77" stroke-linejoin="round">-</text>
<path d="M881.21,789.20 L883.70,788.63 M883.70,787.60 L883.70,795.70" fill="none" stroke="#000" stroke-width="2.3" stroke-linecap="butt"/>
<text transform="matrix(0.2628 0 0 0.2613 899.69 808.63)" font-size="100" font-weight="normal" fill="#000" stroke="#000" stroke-width="3.43" stroke-linejoin="round">Mpc</text>
<text transform="matrix(0.3120 0 0 0.3015 953.21 808.99)" font-size="100" font-weight="normal" fill="#000" stroke="#000" stroke-width="2.93" stroke-linejoin="round">]</text>
<text transform="matrix(0 -0.3120 0.2212 0 21.45 238.42)" font-size="100" font-weight="normal" fill="#000" stroke="#000" stroke-width="3.38" stroke-linejoin="round">r</text>
<text transform="matrix(0 -0.1522 0.1570 0 27.95 226.60)" font-size="100" font-weight="normal" fill="#000" stroke="#000" stroke-width="8.41" stroke-linejoin="round">P</text>
<text transform="matrix(0 -0.2826 0.2891 0 23.08 214.96)" font-size="100" font-weight="normal" fill="#000" stroke="#000" stroke-width="2.10" stroke-linejoin="round">×</text>
<text transform="matrix(0 -0.1969 0.2158 0 22.15 196.02)" font-size="100" font-weight="normal" fill="#000" stroke="#000" stroke-width="7.27" stroke-linejoin="round">w</text>
<text transform="matrix(0 -0.2942 0.3027 0 22.98 179.27)" font-size="100" font-weight="normal" fill="#000" stroke="#000" stroke-width="1.68" stroke-linejoin="round">(</text>
<text transform="matrix(0 -0.2960 0.2230 0 21.55 167.62)" font-size="100" font-weight="normal" fill="#000" stroke="#000" stroke-width="3.47" stroke-linejoin="round">r</text>
<text transform="matrix(0 -0.1409 0.1570 0 28.05 155.81)" font-size="100" font-weight="normal" fill="#000" stroke="#000" stroke-width="8.73" stroke-linejoin="round">P</text>
<text transform="matrix(0 -0.2942 0.3027 0 22.98 144.42)" font-size="100" font-weight="normal" fill="#000" stroke="#000" stroke-width="1.68" stroke-linejoin="round">)</text>
<text transform="matrix(0 -0.3120 0.2212 0 21.45 606.22)" font-size="100" font-weight="normal" fill="#000" stroke="#000" stroke-width="3.38" stroke-linejoin="round">r</text>
<text transform="matrix(0 -0.1522 0.1570 0 27.95 594.40)" font-size="100" font-weight="normal" fill="#000" stroke="#000" stroke-width="8.41" stroke-linejoin="round">P</text>
<text transform="matrix(0 -0.2826 0.2891 0 23.08 582.76)" font-size="100" font-weight="normal" fill="#000" stroke="#000" stroke-width="2.10" stroke-linejoin="round">×</text>
<text transform="matrix(0 -0.1969 0.2158 0 22.15 563.82)" font-size="100" font-weight="normal" fill="#000" stroke="#000" stroke-width="7.27" stroke-linejoin="round">w</text>
<text transform="matrix(0 -0.2942 0.3027 0 22.98 547.07)" font-size="100" font-weight="normal" fill="#000" stroke="#000" stroke-width="1.68" stroke-linejoin="round">(</text>
<text transform="matrix(0 -0.2960 0.2230 0 21.55 535.42)" font-size="100" font-weight="normal" fill="#000" stroke="#000" stroke-width="3.47" stroke-linejoin="round">r</text>
<text transform="matrix(0 -0.1409 0.1570 0 28.05 523.61)" font-size="100" font-weight="normal" fill="#000" stroke="#000" stroke-width="8.73" stroke-linejoin="round">P</text>
<text transform="matrix(0 -0.2942 0.3027 0 22.98 512.22)" font-size="100" font-weight="normal" fill="#000" stroke="#000" stroke-width="1.68" stroke-linejoin="round">)</text>
<clipPath id="qca"><rect x="515.0" y="20.0" width="30" height="25.9"/></clipPath>
<g clip-path="url(#qca)"><text transform="matrix(0.1904 0 0 0.2356 522.95 45.30)" font-size="100" font-weight="normal" fill="#3c0a8c" stroke="#3c0a8c" stroke-width="3.29" stroke-linejoin="round">Q</text></g>
<line x1="530.90" y1="41.90" x2="535.90" y2="46.80" stroke="#3c0a8c" stroke-width="2.5"/>
<text transform="matrix(0.1313 0 0 0.1308 538.72 50.70)" font-size="100" font-weight="bold" fill="#3c0a8c" stroke="#3c0a8c" stroke-width="1.53" stroke-linejoin="round">BH</text>
<text transform="matrix(0.2552 0 0 0.1800 559.00 44.07)" font-size="100" font-weight="normal" fill="#3c0a8c" stroke="#3c0a8c" stroke-width="2.30" stroke-linejoin="round">=</text>
<path d="M580.71,32.20 L583.60,30.77 M583.60,29.60 L583.60,44.60" fill="none" stroke="#3c0a8c" stroke-width="2.6" stroke-linecap="butt"/>
<text transform="matrix(0.2186 0 0 0.2340 545.26 337.85)" font-size="100" font-weight="normal" fill="#1a5acb" stroke="#1a5acb" stroke-width="1.33" stroke-linejoin="round">DR4</text>
<clipPath id="qcb"><rect x="1035.7" y="20.0" width="30" height="25.9"/></clipPath>
<g clip-path="url(#qcb)"><text transform="matrix(0.1904 0 0 0.2356 1043.65 45.30)" font-size="100" font-weight="normal" fill="#3c0a8c" stroke="#3c0a8c" stroke-width="3.29" stroke-linejoin="round">Q</text></g>
<line x1="1051.60" y1="41.90" x2="1056.60" y2="46.80" stroke="#3c0a8c" stroke-width="2.5"/>
<text transform="matrix(0.1313 0 0 0.1308 1059.42 50.70)" font-size="100" font-weight="bold" fill="#3c0a8c" stroke="#3c0a8c" stroke-width="1.53" stroke-linejoin="round">BH</text>
<text transform="matrix(0.2552 0 0 0.1800 1079.70 44.07)" font-size="100" font-weight="normal" fill="#3c0a8c" stroke="#3c0a8c" stroke-width="2.30" stroke-linejoin="round">=</text>
<text transform="matrix(0.2239 0 0 0.2306 1096.97 44.90)" font-size="100" font-weight="normal" fill="#3c0a8c" stroke="#3c0a8c" stroke-width="2.64" stroke-linejoin="round">2</text>
<text transform="matrix(0.2186 0 0 0.2340 1065.96 337.85)" font-size="100" font-weight="normal" fill="#1a5acb" stroke="#1a5acb" stroke-width="1.33" stroke-linejoin="round">DR4</text>
<clipPath id="qcc"><rect x="515.0" y="387.8" width="30" height="25.9"/></clipPath>
<g clip-path="url(#qcc)"><text transform="matrix(0.1904 0 0 0.2356 522.95 413.10)" font-size="100" font-weight="normal" fill="#3c0a8c" stroke="#3c0a8c" stroke-width="3.29" stroke-linejoin="round">Q</text></g>
<line x1="530.90" y1="409.70" x2="535.90" y2="414.60" stroke="#3c0a8c" stroke-width="2.5"/>
<text transform="matrix(0.1313 0 0 0.1308 538.72 418.50)" font-size="100" font-weight="bold" fill="#3c0a8c" stroke="#3c0a8c" stroke-width="1.53" stroke-linejoin="round">BH</text>
<text transform="matrix(0.2552 0 0 0.1800 559.00 411.87)" font-size="100" font-weight="normal" fill="#3c0a8c" stroke="#3c0a8c" stroke-width="2.30" stroke-linejoin="round">=</text>
<path d="M580.71,400.00 L583.60,398.57 M583.60,397.40 L583.60,412.40" fill="none" stroke="#3c0a8c" stroke-width="2.6" stroke-linecap="butt"/>
<text transform="matrix(0.2211 0 0 0.2340 545.24 705.35)" font-size="100" font-weight="normal" fill="#1a5acb" stroke="#1a5acb" stroke-width="1.32" stroke-linejoin="round">DR7</text>
<clipPath id="qcd"><rect x="1035.7" y="387.8" width="30" height="25.9"/></clipPath>
<g clip-path="url(#qcd)"><text transform="matrix(0.1904 0 0 0.2356 1043.65 413.10)" font-size="100" font-weight="normal" fill="#3c0a8c" stroke="#3c0a8c" stroke-width="3.29" stroke-linejoin="round">Q</text></g>
<line x1="1051.60" y1="409.70" x2="1056.60" y2="414.60" stroke="#3c0a8c" stroke-width="2.5"/>
<text transform="matrix(0.1313 0 0 0.1308 1059.42 418.50)" font-size="100" font-weight="bold" fill="#3c0a8c" stroke="#3c0a8c" stroke-width="1.53" stroke-linejoin="round">BH</text>
<text transform="matrix(0.2552 0 0 0.1800 1079.70 411.87)" font-size="100" font-weight="normal" fill="#3c0a8c" stroke="#3c0a8c" stroke-width="2.30" stroke-linejoin="round">=</text>
<text transform="matrix(0.2239 0 0 0.2306 1096.97 412.70)" font-size="100" font-weight="normal" fill="#3c0a8c" stroke="#3c0a8c" stroke-width="2.64" stroke-linejoin="round">2</text>
<text transform="matrix(0.2211 0 0 0.2340 1065.94 705.35)" font-size="100" font-weight="normal" fill="#1a5acb" stroke="#1a5acb" stroke-width="1.32" stroke-linejoin="round">DR7</text>
</svg>
</body></html>
